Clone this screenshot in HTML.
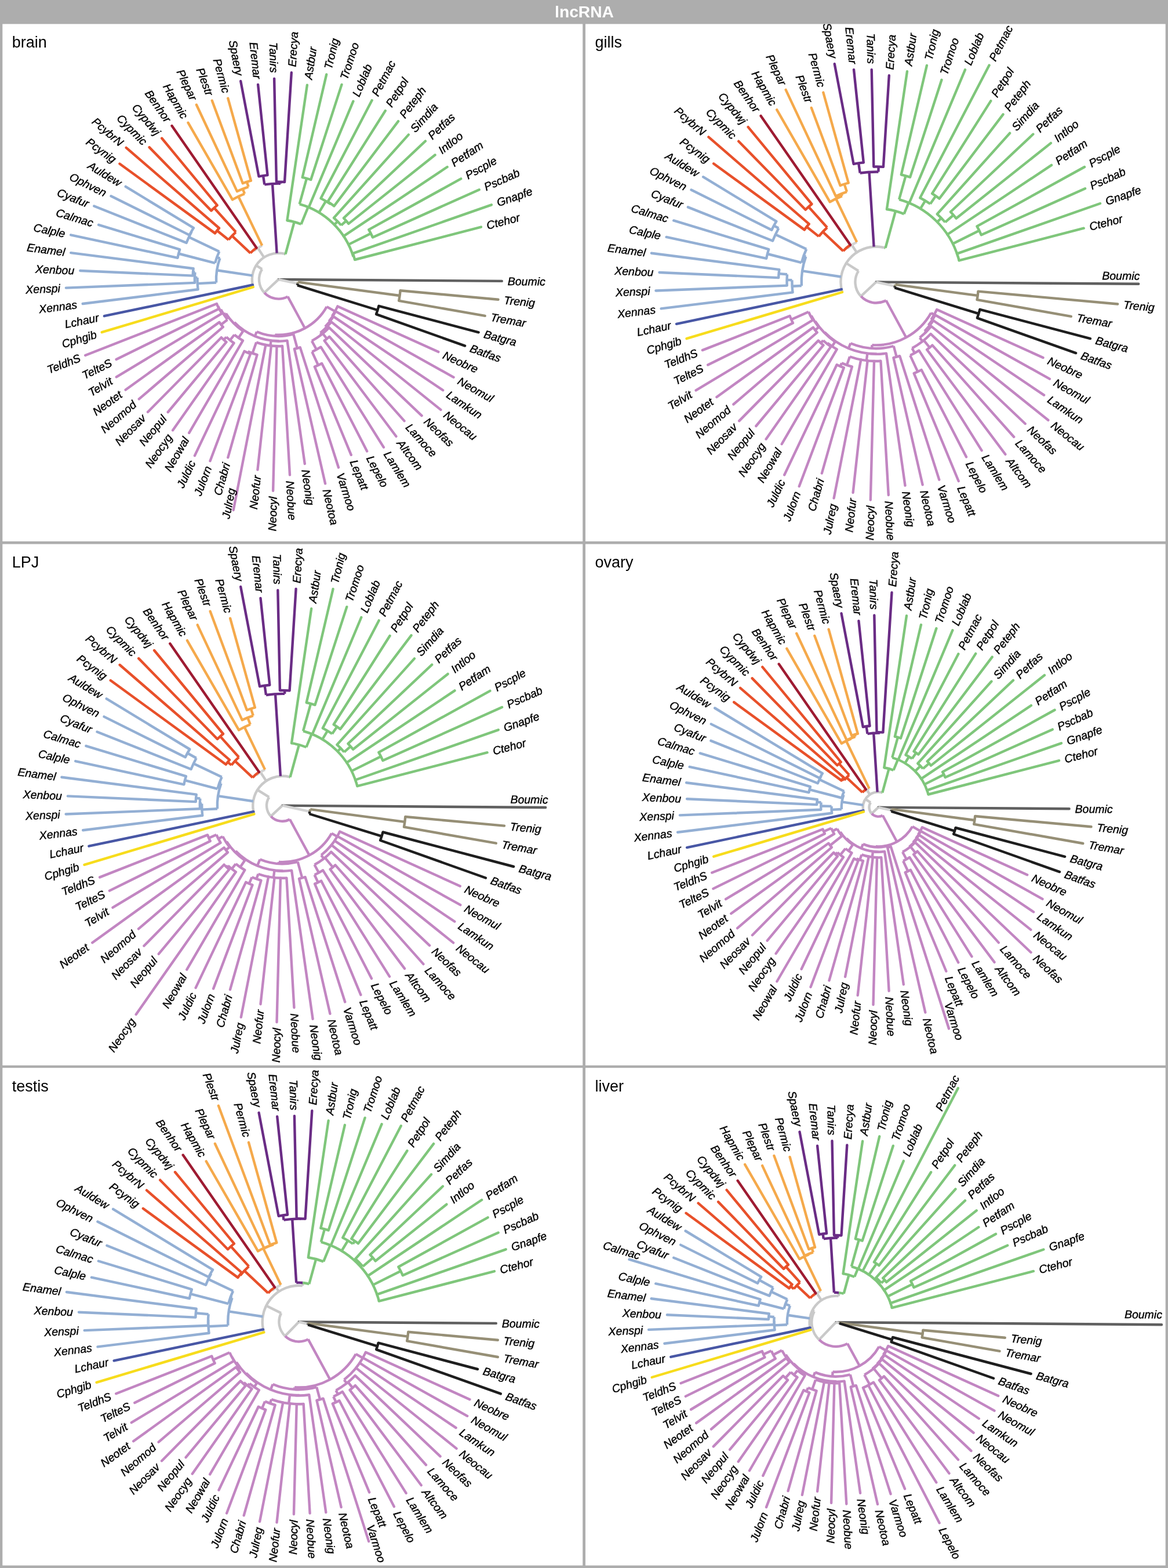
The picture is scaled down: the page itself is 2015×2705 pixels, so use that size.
<!DOCTYPE html>
<html lang="en"><head><meta charset="utf-8"><title>lncRNA</title>
<style>html,body{margin:0;padding:0;background:#adadad}body{position:relative;width:2015px;height:2705px;overflow:hidden;font-family:"Liberation Sans",sans-serif}header{position:absolute;left:0;top:0;width:2015px;height:41px;margin:0;background:#adadad;color:#fff;font-weight:bold;font-size:28.2px;line-height:41.06px;text-align:center;white-space:nowrap}header span{display:inline-block;margin-left:1px}section{position:absolute;margin:0;padding:0;overflow:hidden}section h2{position:absolute;margin:0;padding:0;font-weight:normal;font-size:27px;line-height:30px;color:#000;white-space:nowrap;z-index:1}section svg{position:absolute;left:0;top:0;display:block;font-family:"Liberation Sans",sans-serif}.lab text{font-style:italic;font-size:19.5px;dominant-baseline:central;stroke:#000;stroke-width:0.4px}.br{fill:none;stroke-width:4.4;stroke-linejoin:round}</style></head><body>
<header><span>lncRNA</span></header>
<main>
<section id="panel-brain" style="left:0px;top:41px;width:1008px;height:895px">
<h2 style="left:20.7px;top:16.8px">brain</h2>
<svg width="1008" height="895" viewBox="0 41 1008 895" role="img" aria-label="brain lncRNA tree">
<rect x="4.3" y="41.4" width="1000.9" height="892.5" fill="#fff"/>
<clipPath id="c00"><rect x="4.3" y="41.4" width="1000.9" height="892.5"/></clipPath>
<g clip-path="url(#c00)"><g class="br"><path d="M480.4 482.1L865.8 484.9" stroke="#5f5f5f" stroke-linecap="round"/>
<path d="M480.4 482.1L513.6 489.4" stroke="#d4d4d4" stroke-linecap="butt"/>
<path d="M514.1 486.6A34.0 34.0 0 0 1 513.6 489.4M690.6 501.3A211.0 211.0 0 0 1 688.2 518.8" stroke="#968f76" stroke-linecap="butt"/>
<path d="M513.6 489.4A34.0 34.0 0 0 1 512.9 492.2M653.5 527.8A179.0 179.0 0 0 1 649.1 542.1" stroke="#1e1e1e" stroke-linecap="butt"/>
<path d="M514.1 486.6L689.6 510.0" stroke="#968f76" stroke-linecap="butt"/>
<path d="M690.6 501.3L859.5 516.7M688.2 518.8L836.7 544.9" stroke="#968f76" stroke-linecap="round"/>
<path d="M512.9 492.2L651.4 535.0" stroke="#1e1e1e" stroke-linecap="butt"/>
<path d="M653.5 527.8L825.6 573.3M649.1 542.1L802.1 596.6" stroke="#1e1e1e" stroke-linecap="round"/>
<path d="M480.4 482.1L456.0 505.0M452.1 464.3L442.0 457.9M455.5 444.1L444.8 427.8M485.1 436.9L485.1 436.9" stroke="#c9c9c9" stroke-linecap="butt"/>
<path d="M496.4 511.6A33.5 33.5 0 0 1 456.0 505.0M563.7 529.1A95.6 95.6 0 0 1 474.3 577.6M582.5 528.4A112.0 112.0 0 0 1 572.8 545.4M579.1 537.2A113.0 113.0 0 0 1 567.4 554.3M575.4 546.1A114.5 114.5 0 0 1 560.9 563.6M571.7 555.4A117.0 117.0 0 0 1 552.6 574.3M567.8 565.2A120.5 120.5 0 0 1 537.9 588.1M568.2 580.8A132.0 132.0 0 0 1 559.6 587.7M553.5 598.7A137.5 137.5 0 0 1 538.3 606.9M555.2 627.0A163.0 163.0 0 0 1 542.8 632.7M506.2 576.4A97.7 97.7 0 0 1 442.9 572.3M517.8 599.3A123.0 123.0 0 0 1 507.9 602.0M481.5 588.1A106.0 106.0 0 0 1 404.4 556.0M495.5 587.6A106.5 106.5 0 0 1 467.5 587.9M487.1 597.0A115.0 115.0 0 0 1 442.2 590.6M443.6 612.0A135.0 135.0 0 0 1 427.6 606.4M432.1 610.4A137.0 137.0 0 0 1 421.6 605.9M419.4 571.2A108.0 108.0 0 0 1 389.7 540.7M419.0 587.6A122.0 122.0 0 0 1 404.3 577.5M403.5 591.9A134.0 134.0 0 0 1 390.4 581.4M390.5 590.1A140.5 140.5 0 0 1 381.8 582.2M392.4 551.4A112.0 112.0 0 0 1 381.0 533.7M384.8 564.2A126.0 126.0 0 0 1 378.3 555.9M382.7 540.9A114.0 114.0 0 0 1 376.2 528.2M377.7 532.7A114.5 114.5 0 0 1 373.9 524.0" stroke="#c286c2" stroke-linecap="butt"/>
<path d="M456.0 505.0A33.5 33.5 0 0 1 452.1 464.3M436.8 495.2A45.5 45.5 0 0 1 485.1 436.9M477.6 436.7A45.5 45.5 0 0 1 491.2 437.9" stroke="#c9c9c9" stroke-linecap="butt"/>
<path d="M496.4 511.6L526.0 566.2M563.7 529.1L578.0 537.1M572.8 545.4L573.7 546.0M567.4 554.3L568.6 555.2M560.9 563.6L562.7 565.4M552.6 574.3L554.7 577.0M556.7 575.4L564.0 584.3M537.9 588.1L546.0 603.0M538.3 606.9L549.0 630.0M474.3 577.6L474.2 579.6M506.2 576.4L512.9 600.8M442.9 572.3L439.7 580.0M481.5 588.1L481.5 588.6M467.5 587.9L466.5 596.3M442.2 590.6L435.5 609.4M427.6 606.4L426.8 608.2M404.4 556.0L403.0 557.4M419.4 571.2L411.5 582.8M404.3 577.5L396.8 586.9M390.4 581.4L386.0 586.2M389.7 540.7L386.3 542.8M392.4 551.4L381.4 560.1M381.0 533.7L379.2 534.7M376.2 528.2L375.7 528.4" stroke="#c286c2" stroke-linecap="butt"/>
<path d="M582.5 528.4L756.3 607.1M579.1 537.2L782.6 650.8M575.4 546.1L764.2 673.2M571.7 555.4L760.4 706.9M567.8 565.2L727.6 717.1M568.2 580.8L697.5 726.1M559.6 587.7L683.4 752.8M553.5 598.7L661.9 771.7M555.2 627.0L633.2 778.4M542.8 632.7L605.8 784.8M517.8 599.3L584.0 806.5M507.9 602.0L561.1 834.2M495.5 587.6L525.8 800.1M487.1 597.0L500.0 819.3M477.5 597.1L471.1 846.7M467.9 596.5L444.4 810.4M458.4 595.0L402.7 879.9M443.6 612.0L393.3 789.2M432.1 610.4L362.5 795.3M421.6 605.9L335.9 786.1M419.0 587.6L326.2 746.8M403.5 591.9L298.1 742.3M390.5 590.1L289.7 711.0M381.8 582.2L255.0 710.8M384.8 564.2L239.8 688.4M378.3 555.9L216.6 672.5M382.7 540.9L200.8 650.3M377.7 532.7L200.6 620.0M373.9 524.0L147.2 613.0" stroke="#c286c2" stroke-linecap="round"/>
<path d="M435.9 491.5L179.9 545.2" stroke="#4857a5" stroke-linecap="round"/>
<path d="M435.4 475.4L374.1 466.2M373.1 487.5L340.6 489.1M340.5 478.9L335.9 478.8M336.4 469.7L333.0 469.4M379.4 445.6L374.2 443.7M371.0 453.8L308.1 437.5M378.3 433.9L325.8 409.1M330.7 399.5L330.3 399.3" stroke="#93afd4" stroke-linecap="butt"/>
<path d="M373.1 487.5A107.5 107.5 0 0 1 379.4 445.6M341.5 499.3A140.0 140.0 0 0 1 340.5 478.9M335.9 487.9A144.6 144.6 0 0 1 336.4 469.7M332.6 475.6A148.0 148.0 0 0 1 333.6 463.3M371.0 453.8A113.0 113.0 0 0 1 378.3 433.9M306.4 444.8A178.0 178.0 0 0 1 310.1 430.4M321.6 418.9A171.0 171.0 0 0 1 330.7 399.5M326.9 405.6A171.5 171.5 0 0 1 333.9 393.1" stroke="#93afd4" stroke-linecap="butt"/>
<path d="M341.5 499.3L142.7 524.0M335.9 487.9L113.9 496.6M332.6 475.6L138.3 467.0M333.6 463.3L122.2 436.1M306.4 444.8L122.2 405.3M310.1 430.4L170.1 387.8M321.6 418.9L162.3 355.5M326.9 405.6L191.5 338.2M333.9 393.1L216.7 321.9" stroke="#93afd4" stroke-linecap="round"/>
<path d="M438.0 432.9A65.0 65.0 0 0 1 452.2 423.6" stroke="#d4d4d4" stroke-linecap="butt"/>
<path d="M438.0 432.9L437.0 431.8M432.0 436.6L400.3 406.8M394.3 413.7L374.4 397.8M406.9 400.3L369.5 358.7" stroke="#e8502a" stroke-linecap="butt"/>
<path d="M432.0 436.6A66.5 66.5 0 0 1 442.5 427.5M394.3 413.7A110.0 110.0 0 0 1 406.9 400.3M370.9 402.4A135.5 135.5 0 0 1 378.0 393.5M364.4 363.4A166.0 166.0 0 0 1 374.7 354.1" stroke="#e8502a" stroke-linecap="butt"/>
<path d="M370.9 402.4L206.4 282.5M378.0 393.5L217.7 254.8M364.4 363.4L257.6 254.1M374.7 354.1L279.2 238.5" stroke="#e8502a" stroke-linecap="round"/>
<path d="M442.5 427.5L296.5 217.0" stroke="#9e1b32" stroke-linecap="round"/>
<path d="M452.2 423.6L411.3 339.0M422.0 334.3L418.7 325.9M428.6 322.3L425.8 313.8" stroke="#f5a94b" stroke-linecap="butt"/>
<path d="M401.0 344.4A159.0 159.0 0 0 1 422.0 334.3M409.0 330.1A168.0 168.0 0 0 1 428.6 322.3M418.8 316.2A177.0 177.0 0 0 1 432.9 311.7" stroke="#f5a94b" stroke-linecap="butt"/>
<path d="M401.0 344.4L324.5 211.7M409.0 330.1L338.9 180.8M418.8 316.2L365.8 173.5M432.9 311.7L393.3 169.6" stroke="#f5a94b" stroke-linecap="round"/>
<path d="M491.2 437.9A45.5 45.5 0 0 1 492.5 438.3M495.4 380.2A103.0 103.0 0 0 1 519.5 386.8M516.7 352.1A135.0 135.0 0 0 1 609.6 442.9M521.7 305.9A181.0 181.0 0 0 1 536.3 310.0M553.5 342.1A158.0 158.0 0 0 1 570.5 352.3M565.5 347.8A159.0 159.0 0 0 1 576.4 355.4M576.0 375.8A143.0 143.0 0 0 1 588.6 388.6M593.0 376.2A154.6 154.6 0 0 1 601.4 385.9M636.3 396.1A178.0 178.0 0 0 1 642.9 409.4M608.8 437.2A136.0 136.0 0 0 1 612.1 448.0" stroke="#7fc67b" stroke-linecap="butt"/>
<path d="M477.6 436.7L470.0 317.0M456.3 318.4L454.0 303.1M483.9 316.7L483.9 313.7" stroke="#6a2c85" stroke-linecap="butt"/>
<path d="M456.3 318.4A165.5 165.5 0 0 1 483.9 316.7M446.5 304.3A181.0 181.0 0 0 1 461.5 302.1M476.9 313.7A168.5 168.5 0 0 1 491.0 314.0" stroke="#6a2c85" stroke-linecap="butt"/>
<path d="M446.5 304.3L415.2 139.9M461.5 302.1L445.1 146.0M476.9 313.7L473.1 135.6M491.0 314.0L502.8 125.3" stroke="#6a2c85" stroke-linecap="round"/>
<path d="M492.5 438.3L507.7 382.8M519.5 386.8L531.6 357.2M516.7 352.1L529.0 307.8M550.3 366.6L562.2 346.9M570.5 352.3L571.0 351.5M576.8 387.6L582.5 382.0M588.6 388.6L597.3 381.0M601.2 421.9L639.7 402.7M609.6 442.9L610.5 442.6" stroke="#7fc67b" stroke-linecap="butt"/>
<path d="M495.4 380.2L529.9 146.6M521.7 305.9L563.2 128.5M536.3 310.0L589.5 145.9M532.7 357.7L609.4 174.7M553.5 342.1L641.7 173.1M565.5 347.8L664.8 191.0M576.4 355.4L687.1 209.2M576.0 375.8L704.8 232.4M593.0 376.2L733.9 243.4M601.4 385.9L750.6 267.3M592.8 407.3L771.6 288.0M636.3 396.1L795.2 308.4M642.9 409.4L826.7 327.2M608.8 437.2L847.9 353.3M612.1 448.0L829.9 391.6" stroke="#7fc67b" stroke-linecap="round"/>
<path d="M436.8 495.2L175.7 573.2" stroke="#f7dc1c" stroke-linecap="round"/></g>
<g class="lab" fill="#000"><text transform="translate(875.8 485.0) rotate(0.4)">Boumic</text>
<text transform="translate(869.4 517.6) rotate(5.2)">Trenig</text>
<text transform="translate(846.6 546.7) rotate(10.0)">Tremar</text>
<text transform="translate(835.3 575.8) rotate(14.8)">Batgra</text>
<text transform="translate(811.5 599.9) rotate(19.6)">Batfas</text>
<text transform="translate(765.4 611.3) rotate(24.4)">Neobre</text>
<text transform="translate(791.3 655.6) rotate(29.2)">Neomul</text>
<text transform="translate(772.5 678.8) rotate(34.0)">Lamkun</text>
<text transform="translate(768.2 713.1) rotate(38.8)">Neocau</text>
<text transform="translate(734.9 724.0) rotate(43.5)">Neofas</text>
<text transform="translate(704.1 733.5) rotate(48.3)">Lamoce</text>
<text transform="translate(689.4 760.8) rotate(53.1)">Altcom</text>
<text transform="translate(667.2 780.1) rotate(57.9)">Lamlem</text>
<text transform="translate(637.8 787.2) rotate(62.7)">Lepelo</text>
<text transform="translate(609.6 794.1) rotate(67.5)">Lepatt</text>
<text transform="translate(587.0 816.1) rotate(72.3)">Varmoo</text>
<text transform="translate(563.4 844.0) rotate(77.1)">Neotoa</text>
<text transform="translate(527.2 810.0) rotate(81.9)">Neonig</text>
<text transform="translate(500.6 829.3) rotate(86.7)">Neobue</text>
<text transform="translate(470.8 856.7) rotate(-88.5)" text-anchor="end">Neocyl</text>
<text transform="translate(443.3 820.3) rotate(-83.7)" text-anchor="end">Neofur</text>
<text transform="translate(399.3 842.3) rotate(-79.0)" text-anchor="end">Julreg</text>
<text transform="translate(390.5 798.8) rotate(-74.2)" text-anchor="end">Chabri</text>
<text transform="translate(359.0 804.6) rotate(-69.4)" text-anchor="end">Julorn</text>
<text transform="translate(331.6 795.2) rotate(-64.6)" text-anchor="end">Juldic</text>
<text transform="translate(321.2 755.4) rotate(-59.8)" text-anchor="end">Neowal</text>
<text transform="translate(292.4 750.5) rotate(-55.0)" text-anchor="end">Neocyg</text>
<text transform="translate(283.3 718.7) rotate(-50.2)" text-anchor="end">Neopul</text>
<text transform="translate(247.9 717.9) rotate(-45.4)" text-anchor="end">Neosav</text>
<text transform="translate(232.2 694.9) rotate(-40.6)" text-anchor="end">Neomod</text>
<text transform="translate(208.4 678.4) rotate(-35.8)" text-anchor="end">Neotet</text>
<text transform="translate(192.2 655.5) rotate(-31.0)" text-anchor="end">Telvit</text>
<text transform="translate(191.7 624.4) rotate(-26.2)" text-anchor="end">TelteS</text>
<text transform="translate(137.9 616.6) rotate(-21.4)" text-anchor="end">TeldhS</text>
<text transform="translate(166.1 576.1) rotate(-16.6)" text-anchor="end">Cphgib</text>
<text transform="translate(170.1 547.3) rotate(-11.8)" text-anchor="end">Lchaur</text>
<text transform="translate(132.8 525.2) rotate(-7.1)" text-anchor="end">Xennas</text>
<text transform="translate(103.9 497.0) rotate(-2.3)" text-anchor="end">Xenspi</text>
<text transform="translate(128.3 466.6) rotate(2.5)" text-anchor="end">Xenbou</text>
<text transform="translate(112.3 434.8) rotate(7.3)" text-anchor="end">Enamel</text>
<text transform="translate(112.4 403.2) rotate(12.1)" text-anchor="end">Calple</text>
<text transform="translate(160.6 384.9) rotate(16.9)" text-anchor="end">Calmac</text>
<text transform="translate(153.0 351.9) rotate(21.7)" text-anchor="end">Cyafur</text>
<text transform="translate(182.6 333.7) rotate(26.5)" text-anchor="end">Ophven</text>
<text transform="translate(208.2 316.7) rotate(31.3)" text-anchor="end">Auldew</text>
<text transform="translate(198.4 276.6) rotate(36.1)" text-anchor="end">Pcynig</text>
<text transform="translate(210.2 248.3) rotate(40.9)" text-anchor="end">PcybrN</text>
<text transform="translate(250.6 246.9) rotate(45.7)" text-anchor="end">Cypmic</text>
<text transform="translate(272.9 230.8) rotate(50.5)" text-anchor="end">Cypdwj</text>
<text transform="translate(290.8 208.8) rotate(55.2)" text-anchor="end">Benhor</text>
<text transform="translate(319.5 203.0) rotate(60.0)" text-anchor="end">Hapmic</text>
<text transform="translate(334.6 171.8) rotate(64.8)" text-anchor="end">Plepar</text>
<text transform="translate(362.3 164.2) rotate(69.6)" text-anchor="end">Plestr</text>
<text transform="translate(390.6 159.9) rotate(74.4)" text-anchor="end">Permic</text>
<text transform="translate(413.3 130.1) rotate(79.2)" text-anchor="end">Spaery</text>
<text transform="translate(444.1 136.1) rotate(84.0)" text-anchor="end">Eremar</text>
<text transform="translate(472.9 125.6) rotate(88.8)" text-anchor="end">Tanirs</text>
<text transform="translate(503.4 115.4) rotate(-86.4)">Erecya</text>
<text transform="translate(531.3 136.7) rotate(-81.6)">Astbur</text>
<text transform="translate(565.5 118.8) rotate(-76.8)">Tronig</text>
<text transform="translate(592.6 136.4) rotate(-72.0)">Tromoo</text>
<text transform="translate(613.3 165.5) rotate(-67.2)">Loblab</text>
<text transform="translate(646.3 164.2) rotate(-62.4)">Petmac</text>
<text transform="translate(670.1 182.6) rotate(-57.7)">Petpol</text>
<text transform="translate(693.2 201.2) rotate(-52.9)">Peteph</text>
<text transform="translate(711.4 225.0) rotate(-48.1)">Simdia</text>
<text transform="translate(741.2 236.6) rotate(-43.3)">Petfas</text>
<text transform="translate(758.5 261.1) rotate(-38.5)">Intloo</text>
<text transform="translate(779.9 282.5) rotate(-33.7)">Petfam</text>
<text transform="translate(804.0 303.5) rotate(-28.9)">Pscple</text>
<text transform="translate(835.9 323.1) rotate(-24.1)">Pscbab</text>
<text transform="translate(857.4 350.0) rotate(-19.3)">Gnapfe</text>
<text transform="translate(839.6 389.1) rotate(-14.5)">Ctehor</text></g></g>
</svg></section>
<section id="panel-gills" style="left:1008px;top:41px;width:1007px;height:895px">
<h2 style="left:18.4px;top:16.8px">gills</h2>
<svg width="1007" height="895" viewBox="1008 41 1007 895" role="img" aria-label="gills lncRNA tree">
<rect x="1010.0" y="41.4" width="1000.7" height="892.5" fill="#fff"/>
<clipPath id="c01"><rect x="1010.0" y="41.4" width="1000.7" height="892.5"/></clipPath>
<g clip-path="url(#c01)"><g class="br"><path d="M1511.5 486.5L1964.2 489.8" stroke="#5f5f5f" stroke-linecap="round"/>
<path d="M1511.5 486.5L1544.0 493.7" stroke="#d4d4d4" stroke-linecap="butt"/>
<path d="M1544.5 490.9A33.3 33.3 0 0 1 1544.0 493.7M1687.5 502.6A176.8 176.8 0 0 1 1685.6 517.2" stroke="#968f76" stroke-linecap="butt"/>
<path d="M1544.0 493.7A33.3 33.3 0 0 1 1543.3 496.4M1690.5 533.8A185.2 185.2 0 0 1 1685.9 548.6" stroke="#1e1e1e" stroke-linecap="butt"/>
<path d="M1544.5 490.9L1686.7 509.9" stroke="#968f76" stroke-linecap="butt"/>
<path d="M1687.5 502.6L1928.1 524.5M1685.6 517.2L1847.8 545.8" stroke="#968f76" stroke-linecap="round"/>
<path d="M1543.3 496.4L1688.4 541.2" stroke="#1e1e1e" stroke-linecap="butt"/>
<path d="M1690.5 533.8L1880.9 584.1M1685.9 548.6L1856.1 609.1" stroke="#1e1e1e" stroke-linecap="round"/>
<path d="M1511.5 486.5L1485.2 511.1M1481.0 467.3L1459.9 454.0M1478.0 435.5L1469.5 422.6M1517.7 425.8L1517.7 425.8" stroke="#c9c9c9" stroke-linecap="butt"/>
<path d="M1528.6 518.2A36.0 36.0 0 0 1 1485.2 511.1M1606.2 539.9A108.8 108.8 0 0 1 1504.5 595.1M1616.2 534.0A115.0 115.0 0 0 1 1606.3 551.5M1613.6 543.5A117.0 117.0 0 0 1 1601.5 561.2M1610.2 553.0A119.0 119.0 0 0 1 1595.1 571.2M1606.6 562.9A122.0 122.0 0 0 1 1586.7 582.6M1605.7 576.1A130.0 130.0 0 0 1 1573.5 600.8M1608.5 595.6A146.0 146.0 0 0 1 1599.1 603.3M1585.5 604.7A139.5 139.5 0 0 1 1570.2 613.1M1589.6 638.1A170.5 170.5 0 0 1 1576.7 644.1M1541.7 597.0A114.5 114.5 0 0 1 1467.4 592.2M1552.2 614.2A134.0 134.0 0 0 1 1541.4 617.1M1512.7 610.5A124.0 124.0 0 0 1 1422.6 573.0M1529.0 609.6A124.3 124.3 0 0 1 1496.3 609.9M1519.4 622.8A136.5 136.5 0 0 1 1466.0 615.2M1469.9 632.7A152.0 152.0 0 0 1 1452.0 626.4M1455.8 634.4A158.0 158.0 0 0 1 1443.6 629.2M1440.8 589.6A125.0 125.0 0 0 1 1406.4 554.3M1443.7 602.7A134.5 134.5 0 0 1 1427.5 591.6M1433.4 597.9A136.0 136.0 0 0 1 1420.1 587.3M1420.5 595.6A142.0 142.0 0 0 1 1411.7 587.6M1412.4 564.5A126.0 126.0 0 0 1 1399.6 544.6M1409.7 573.7A134.0 134.0 0 0 1 1402.8 564.9M1402.3 552.2A127.4 127.4 0 0 1 1394.9 538.0M1367.9 557.2A160.0 160.0 0 0 1 1362.5 545.0" stroke="#c286c2" stroke-linecap="butt"/>
<path d="M1485.2 511.1A36.0 36.0 0 0 1 1481.0 467.3M1453.0 504.0A61.0 61.0 0 0 1 1517.7 425.8M1507.6 425.6A61.0 61.0 0 0 1 1525.8 427.2" stroke="#c9c9c9" stroke-linecap="butt"/>
<path d="M1528.6 518.2L1563.3 582.2M1606.2 539.9L1611.7 543.0M1606.3 551.5L1608.0 552.6M1601.5 561.2L1603.1 562.5M1595.1 571.2L1597.2 573.3M1586.7 582.6L1591.6 588.9M1593.7 587.2L1603.9 599.6M1573.5 600.8L1578.0 609.1M1570.2 613.1L1583.2 641.2M1504.5 595.1L1504.1 600.8M1541.7 597.0L1546.8 615.8M1467.4 592.2L1463.8 601.0M1512.7 610.5L1512.7 610.8M1496.3 609.9L1494.9 622.0M1466.0 615.2L1460.9 629.9M1452.0 626.4L1449.6 631.9M1422.6 573.0L1421.8 573.7M1440.8 589.6L1435.4 597.5M1427.5 591.6L1426.6 592.8M1420.1 587.3L1416.1 591.7M1406.4 554.3L1405.6 554.8M1412.4 564.5L1406.2 569.4M1399.6 544.6L1398.4 545.2M1394.9 538.0L1365.1 551.2" stroke="#c286c2" stroke-linecap="butt"/>
<path d="M1616.2 534.0L1799.5 617.0M1613.6 543.5L1810.8 653.6M1610.2 553.0L1801.1 681.6M1606.6 562.9L1808.3 724.8M1605.7 576.1L1768.7 731.0M1608.5 595.6L1749.2 753.7M1599.1 603.3L1734.4 783.7M1585.5 604.7L1693.6 777.1M1589.6 638.1L1667.0 788.2M1576.7 644.1L1653.7 830.0M1552.2 614.2L1620.3 827.6M1541.4 617.1L1591.6 836.2M1529.0 609.6L1561.5 837.6M1519.4 622.8L1532.8 854.0M1508.0 623.0L1501.8 862.5M1496.6 622.2L1471.6 849.8M1485.3 620.5L1438.6 859.4M1469.9 632.7L1417.8 816.5M1455.8 634.4L1378.7 839.0M1443.6 629.2L1353.2 819.2M1443.7 602.7L1348.7 766.0M1433.4 597.9L1321.6 757.5M1420.5 595.6L1304.3 735.0M1411.7 587.6L1275.2 726.1M1409.7 573.7L1265.4 697.5M1402.8 564.9L1236.4 685.0M1402.3 552.2L1200.6 673.4M1367.9 557.2L1221.2 629.5M1362.5 545.0L1211.9 604.1" stroke="#c286c2" stroke-linecap="round"/>
<path d="M1451.8 499.1L1167.0 558.8" stroke="#4857a5" stroke-linecap="round"/>
<path d="M1451.1 477.5L1384.1 467.4M1382.8 493.0L1366.5 493.8M1366.4 483.2L1357.5 482.9M1358.0 473.3L1343.6 472.1M1390.3 442.7L1386.4 441.3M1382.7 453.2L1323.9 438.0M1391.2 429.7L1337.8 404.4M1343.3 393.7L1335.1 389.2" stroke="#93afd4" stroke-linecap="butt"/>
<path d="M1382.8 493.0A128.8 128.8 0 0 1 1390.3 442.7M1367.5 504.4A145.1 145.1 0 0 1 1366.4 483.2M1357.6 492.6A154.0 154.0 0 0 1 1358.0 473.3M1343.1 479.1A168.5 168.5 0 0 1 1344.3 465.1M1382.7 453.2A133.0 133.0 0 0 1 1391.2 429.7M1322.1 445.9A193.7 193.7 0 0 1 1326.1 430.2M1333.0 415.5A192.1 192.1 0 0 1 1343.3 393.7M1331.2 396.7A201.4 201.4 0 0 1 1339.3 381.9" stroke="#93afd4" stroke-linecap="butt"/>
<path d="M1367.5 504.4L1140.6 532.4M1357.6 492.6L1131.4 501.5M1343.1 479.1L1137.5 470.0M1344.3 465.1L1123.9 436.7M1322.1 445.9L1149.6 408.9M1326.1 430.2L1162.2 380.4M1333.0 415.5L1186.9 357.4M1331.2 396.7L1192.5 327.5M1339.3 381.9L1213.1 305.2" stroke="#93afd4" stroke-linecap="round"/>
<path d="M1461.5 428.6A76.5 76.5 0 0 1 1478.2 417.6" stroke="#d4d4d4" stroke-linecap="butt"/>
<path d="M1461.5 428.6L1460.5 427.4M1454.7 433.1L1419.4 399.9M1412.5 407.9L1391.6 391.3M1427.0 392.5L1394.9 356.8" stroke="#e8502a" stroke-linecap="butt"/>
<path d="M1454.7 433.1A78.0 78.0 0 0 1 1467.0 422.4M1412.5 407.9A126.4 126.4 0 0 1 1427.0 392.5M1387.7 396.4A153.1 153.1 0 0 1 1395.7 386.3M1389.6 361.8A174.4 174.4 0 0 1 1400.4 352.0" stroke="#e8502a" stroke-linecap="butt"/>
<path d="M1387.7 396.4L1231.1 282.2M1395.7 386.3L1222.4 236.4M1389.6 361.8L1274.2 243.7M1400.4 352.0L1290.6 219.1" stroke="#e8502a" stroke-linecap="round"/>
<path d="M1467.0 422.4L1312.6 199.9" stroke="#9e1b32" stroke-linecap="round"/>
<path d="M1478.2 417.6L1442.1 342.8M1452.8 338.1L1451.3 334.4M1461.0 330.9L1456.6 317.6" stroke="#f5a94b" stroke-linecap="butt"/>
<path d="M1431.7 348.3A159.6 159.6 0 0 1 1452.8 338.1M1441.9 338.5A163.6 163.6 0 0 1 1461.0 330.9M1449.6 320.0A177.6 177.6 0 0 1 1463.7 315.5" stroke="#f5a94b" stroke-linecap="butt"/>
<path d="M1431.7 348.3L1340.2 189.4M1441.9 338.5L1355.6 154.9M1449.6 320.0L1399.8 185.9M1463.7 315.5L1420.3 159.5" stroke="#f5a94b" stroke-linecap="round"/>
<path d="M1525.8 427.2A61.0 61.0 0 0 1 1527.6 427.7M1529.9 361.0A126.9 126.9 0 0 1 1559.6 369.1M1551.1 344.1A147.9 147.9 0 0 1 1652.9 443.5M1554.8 301.3A190.2 190.2 0 0 1 1570.1 305.6M1587.3 341.2A163.9 163.9 0 0 1 1604.9 351.8M1608.1 333.9A180.6 180.6 0 0 1 1620.5 342.6M1616.8 369.3A157.6 157.6 0 0 1 1630.6 383.4M1639.9 365.5A176.5 176.5 0 0 1 1649.6 376.7M1685.5 390.4A198.8 198.8 0 0 1 1692.9 405.3M1651.0 437.6A147.9 147.9 0 0 1 1654.6 449.4" stroke="#7fc67b" stroke-linecap="butt"/>
<path d="M1507.6 425.6L1499.5 296.8M1483.7 298.5L1481.2 281.4M1515.4 296.5L1515.6 287.6" stroke="#6a2c85" stroke-linecap="butt"/>
<path d="M1483.7 298.5A190.1 190.1 0 0 1 1515.4 296.5M1472.6 282.9A207.3 207.3 0 0 1 1489.8 280.4M1507.3 287.6A199.0 199.0 0 0 1 1523.9 287.9" stroke="#6a2c85" stroke-linecap="butt"/>
<path d="M1472.6 282.9L1439.7 110.2M1489.8 280.4L1473.0 120.1M1507.3 287.6L1503.7 120.1M1523.9 287.9L1533.8 130.3" stroke="#6a2c85" stroke-linecap="round"/>
<path d="M1527.6 427.7L1545.0 364.1M1559.6 369.1L1567.5 349.7M1551.1 344.1L1562.5 303.3M1587.9 359.9L1596.2 346.3M1604.9 351.8L1614.4 338.1M1617.0 382.9L1623.9 376.1M1630.6 383.4L1644.9 371.0M1643.8 420.5L1689.4 397.8M1652.9 443.5L1652.9 443.5" stroke="#7fc67b" stroke-linecap="butt"/>
<path d="M1529.9 361.0L1565.0 123.1M1554.8 301.3L1598.9 113.0M1570.1 305.6L1624.5 137.8M1568.7 350.1L1665.0 120.4M1587.3 341.2L1706.6 112.6M1608.1 333.9L1709.3 174.1M1620.5 342.6L1730.5 197.3M1616.8 369.3L1742.1 229.7M1639.9 365.5L1782.3 231.5M1649.6 376.7L1812.9 246.9M1634.5 404.5L1814.0 284.8M1685.5 390.4L1871.0 288.0M1692.9 405.3L1872.0 325.2M1651.0 437.6L1898.0 351.0M1654.6 449.4L1869.7 393.7" stroke="#7fc67b" stroke-linecap="round"/>
<path d="M1453.0 504.0L1184.5 584.2" stroke="#f7dc1c" stroke-linecap="round"/></g>
<g class="lab" fill="#000"><text transform="translate(1966.3 475.8) rotate(0.4)" text-anchor="end">Boumic</text>
<text transform="translate(1938.1 525.4) rotate(5.2)">Trenig</text>
<text transform="translate(1857.6 547.5) rotate(10.0)">Tremar</text>
<text transform="translate(1890.6 586.6) rotate(14.8)">Batgra</text>
<text transform="translate(1865.5 612.5) rotate(19.6)">Batfas</text>
<text transform="translate(1808.6 621.1) rotate(24.4)">Neobre</text>
<text transform="translate(1819.5 658.5) rotate(29.2)">Neomul</text>
<text transform="translate(1809.4 687.2) rotate(34.0)">Lamkun</text>
<text transform="translate(1816.1 731.0) rotate(38.8)">Neocau</text>
<text transform="translate(1775.9 737.9) rotate(43.5)">Neofas</text>
<text transform="translate(1755.8 761.1) rotate(48.3)">Lamoce</text>
<text transform="translate(1740.4 791.7) rotate(53.1)">Altcom</text>
<text transform="translate(1698.9 785.5) rotate(57.9)">Lamlem</text>
<text transform="translate(1671.6 797.0) rotate(62.7)">Lepelo</text>
<text transform="translate(1657.5 839.3) rotate(67.5)">Lepatt</text>
<text transform="translate(1623.3 837.1) rotate(72.3)">Varmoo</text>
<text transform="translate(1593.8 845.9) rotate(77.1)">Neotoa</text>
<text transform="translate(1562.9 847.5) rotate(81.9)">Neonig</text>
<text transform="translate(1533.4 864.0) rotate(86.7)">Neobue</text>
<text transform="translate(1501.6 872.5) rotate(-88.5)" text-anchor="end">Neocyl</text>
<text transform="translate(1470.5 859.8) rotate(-83.7)" text-anchor="end">Neofur</text>
<text transform="translate(1436.7 869.2) rotate(-78.9)" text-anchor="end">Julreg</text>
<text transform="translate(1415.1 826.1) rotate(-74.2)" text-anchor="end">Chabri</text>
<text transform="translate(1375.1 848.4) rotate(-69.4)" text-anchor="end">Julorn</text>
<text transform="translate(1348.9 828.3) rotate(-64.6)" text-anchor="end">Juldic</text>
<text transform="translate(1343.6 774.6) rotate(-59.8)" text-anchor="end">Neowal</text>
<text transform="translate(1315.8 765.7) rotate(-55.0)" text-anchor="end">Neocyg</text>
<text transform="translate(1297.9 742.7) rotate(-50.2)" text-anchor="end">Neopul</text>
<text transform="translate(1268.1 733.2) rotate(-45.4)" text-anchor="end">Neosav</text>
<text transform="translate(1257.8 704.0) rotate(-40.6)" text-anchor="end">Neomod</text>
<text transform="translate(1228.3 690.9) rotate(-35.8)" text-anchor="end">Neotet</text>
<text transform="translate(1192.0 678.6) rotate(-31.0)" text-anchor="end">Telvit</text>
<text transform="translate(1212.2 634.0) rotate(-26.2)" text-anchor="end">TelteS</text>
<text transform="translate(1202.6 607.8) rotate(-21.4)" text-anchor="end">TeldhS</text>
<text transform="translate(1175.0 587.1) rotate(-16.6)" text-anchor="end">Cphgib</text>
<text transform="translate(1157.2 560.9) rotate(-11.8)" text-anchor="end">Lchaur</text>
<text transform="translate(1130.7 533.7) rotate(-7.1)" text-anchor="end">Xennas</text>
<text transform="translate(1121.5 501.9) rotate(-2.3)" text-anchor="end">Xenspi</text>
<text transform="translate(1127.5 469.6) rotate(2.5)" text-anchor="end">Xenbou</text>
<text transform="translate(1114.0 435.5) rotate(7.3)" text-anchor="end">Enamel</text>
<text transform="translate(1139.8 406.8) rotate(12.1)" text-anchor="end">Calple</text>
<text transform="translate(1152.7 377.5) rotate(16.9)" text-anchor="end">Calmac</text>
<text transform="translate(1177.6 353.7) rotate(21.7)" text-anchor="end">Cyafur</text>
<text transform="translate(1183.5 323.1) rotate(26.5)" text-anchor="end">Ophven</text>
<text transform="translate(1204.6 300.0) rotate(31.3)" text-anchor="end">Auldew</text>
<text transform="translate(1223.0 276.4) rotate(36.1)" text-anchor="end">Pcynig</text>
<text transform="translate(1214.9 229.9) rotate(40.9)" text-anchor="end">PcybrN</text>
<text transform="translate(1267.2 236.6) rotate(45.7)" text-anchor="end">Cypmic</text>
<text transform="translate(1284.3 211.4) rotate(50.5)" text-anchor="end">Cypdwj</text>
<text transform="translate(1306.9 191.6) rotate(55.2)" text-anchor="end">Benhor</text>
<text transform="translate(1335.2 180.7) rotate(60.0)" text-anchor="end">Hapmic</text>
<text transform="translate(1351.4 145.9) rotate(64.8)" text-anchor="end">Plepar</text>
<text transform="translate(1396.3 176.5) rotate(69.6)" text-anchor="end">Plestr</text>
<text transform="translate(1417.6 149.9) rotate(74.4)" text-anchor="end">Permic</text>
<text transform="translate(1437.9 100.4) rotate(79.2)" text-anchor="end">Spaery</text>
<text transform="translate(1471.9 110.2) rotate(84.0)" text-anchor="end">Eremar</text>
<text transform="translate(1503.5 110.1) rotate(88.8)" text-anchor="end">Tanirs</text>
<text transform="translate(1534.4 120.3) rotate(-86.4)">Erecya</text>
<text transform="translate(1566.4 113.3) rotate(-81.6)">Astbur</text>
<text transform="translate(1601.2 103.3) rotate(-76.8)">Tronig</text>
<text transform="translate(1627.6 128.3) rotate(-72.0)">Tromoo</text>
<text transform="translate(1668.9 111.2) rotate(-67.2)">Loblab</text>
<text transform="translate(1711.2 103.7) rotate(-62.4)">Petmac</text>
<text transform="translate(1714.6 165.6) rotate(-57.7)">Petpol</text>
<text transform="translate(1736.5 189.3) rotate(-52.9)">Peteph</text>
<text transform="translate(1748.8 222.3) rotate(-48.1)">Simdia</text>
<text transform="translate(1789.6 224.6) rotate(-43.3)">Petfas</text>
<text transform="translate(1820.7 240.6) rotate(-38.5)">Intloo</text>
<text transform="translate(1822.3 279.3) rotate(-33.7)">Petfam</text>
<text transform="translate(1879.8 283.2) rotate(-28.9)">Pscple</text>
<text transform="translate(1881.1 321.1) rotate(-24.1)">Pscbab</text>
<text transform="translate(1907.4 347.7) rotate(-19.3)">Gnapfe</text>
<text transform="translate(1879.4 391.2) rotate(-14.5)">Ctehor</text></g></g>
</svg></section>
<section id="panel-LPJ" style="left:0px;top:936px;width:1008px;height:904px">
<h2 style="left:20.7px;top:19.0px">LPJ</h2>
<svg width="1008" height="904" viewBox="0 936 1008 904" role="img" aria-label="LPJ lncRNA tree">
<rect x="4.3" y="938.6" width="1000.9" height="899.3" fill="#fff"/>
<clipPath id="c10"><rect x="4.3" y="938.6" width="1000.9" height="899.3"/></clipPath>
<g clip-path="url(#c10)"><g class="br"><path d="M487.1 1389.7L941.2 1393.0" stroke="#5f5f5f" stroke-linecap="round"/>
<path d="M487.1 1389.7L534.5 1400.1" stroke="#d4d4d4" stroke-linecap="butt"/>
<path d="M535.2 1396.1A48.5 48.5 0 0 1 534.5 1400.1M699.3 1409.0A213.1 213.1 0 0 1 697.0 1426.7" stroke="#968f76" stroke-linecap="butt"/>
<path d="M534.5 1400.1A48.5 48.5 0 0 1 533.5 1404.0M660.6 1435.5A179.4 179.4 0 0 1 656.1 1449.8" stroke="#1e1e1e" stroke-linecap="butt"/>
<path d="M535.2 1396.1L698.3 1417.9" stroke="#968f76" stroke-linecap="butt"/>
<path d="M699.3 1409.0L870.0 1424.6M697.0 1426.7L855.8 1454.7" stroke="#968f76" stroke-linecap="round"/>
<path d="M533.5 1404.0L658.5 1442.7" stroke="#1e1e1e" stroke-linecap="butt"/>
<path d="M660.6 1435.5L886.1 1495.0M656.1 1449.8L837.9 1514.5" stroke="#1e1e1e" stroke-linecap="round"/>
<path d="M487.1 1389.7L467.3 1408.2M464.2 1375.2L444.1 1362.6M459.2 1347.1L449.3 1332.0M492.3 1339.1L492.3 1339.1" stroke="#c9c9c9" stroke-linecap="butt"/>
<path d="M500.0 1413.5A27.1 27.1 0 0 1 467.3 1408.2M572.1 1437.6A97.5 97.5 0 0 1 480.9 1487.0M586.1 1434.6A108.7 108.7 0 0 1 576.8 1451.1M582.0 1442.7A108.7 108.7 0 0 1 570.8 1459.1M577.3 1450.4A108.7 108.7 0 0 1 563.5 1467.0M571.9 1457.7A108.7 108.7 0 0 1 554.1 1475.3M571.3 1469.7A116.1 116.1 0 0 1 542.5 1491.8M578.5 1492.4A137.5 137.5 0 0 1 569.6 1499.7M557.1 1501.4A131.8 131.8 0 0 1 542.6 1509.3M554.1 1519.6A146.2 146.2 0 0 1 543.1 1524.8M513.6 1486.6A100.5 100.5 0 0 1 448.5 1482.5M526.5 1513.0A129.4 129.4 0 0 1 516.0 1515.8M488.2 1502.2A112.5 112.5 0 0 1 406.5 1468.1M503.1 1501.6A113.0 113.0 0 0 1 473.4 1501.9M494.4 1514.6A125.1 125.1 0 0 1 445.5 1507.7M450.4 1518.9A134.3 134.3 0 0 1 434.6 1513.3M435.5 1526.7A146.4 146.4 0 0 1 424.2 1521.9M422.4 1484.2A114.5 114.5 0 0 1 390.9 1451.8M422.3 1501.0A128.8 128.8 0 0 1 406.7 1490.3M406.9 1504.2A139.8 139.8 0 0 1 393.2 1493.3M395.4 1499.8A143.3 143.3 0 0 1 386.5 1491.7M396.0 1461.5A116.0 116.0 0 0 1 384.2 1443.1M392.9 1470.5A124.1 124.1 0 0 1 386.5 1462.3M380.5 1453.8A124.4 124.4 0 0 1 373.3 1440.0M362.7 1451.0A138.7 138.7 0 0 1 358.0 1440.4" stroke="#c286c2" stroke-linecap="butt"/>
<path d="M467.3 1408.2A27.1 27.1 0 0 1 464.2 1375.2M438.4 1404.3A50.9 50.9 0 0 1 492.3 1339.1M483.9 1338.9A50.9 50.9 0 0 1 499.1 1340.2" stroke="#c9c9c9" stroke-linecap="butt"/>
<path d="M500.0 1413.5L533.6 1475.4M572.1 1437.6L581.8 1443.1M576.8 1451.1L576.8 1451.1M570.8 1459.1L570.8 1459.1M563.5 1467.0L563.5 1467.0M554.1 1475.3L558.7 1481.1M560.6 1479.6L574.2 1496.2M542.5 1491.8L550.0 1505.6M542.6 1509.3L548.7 1522.3M480.9 1487.0L480.7 1490.0M513.6 1486.6L521.3 1514.5M448.5 1482.5L443.9 1493.6M488.2 1502.2L488.2 1502.7M473.4 1501.9L471.9 1513.9M445.5 1507.7L442.4 1516.3M434.6 1513.3L429.8 1524.4M406.5 1468.1L405.0 1469.5M422.4 1484.2L414.3 1496.0M406.7 1490.3L399.9 1498.9M393.2 1493.3L390.9 1495.9M390.9 1451.8L389.6 1452.6M396.0 1461.5L389.6 1466.5M384.2 1443.1L376.7 1447.0M373.3 1440.0L360.2 1445.7" stroke="#c286c2" stroke-linecap="butt"/>
<path d="M586.1 1434.6L793.8 1528.7M582.0 1442.7L794.3 1561.2M577.3 1450.4L784.3 1589.8M571.9 1457.7L782.1 1626.4M571.3 1469.7L741.1 1631.1M578.5 1492.4L730.4 1663.1M569.6 1499.7L698.0 1670.9M557.1 1501.4L672.0 1684.7M554.1 1519.6L641.0 1688.1M543.1 1524.8L622.4 1716.3M526.5 1513.0L595.2 1728.5M516.0 1515.8L569.4 1748.8M503.1 1501.6L539.6 1757.9M494.4 1514.6L507.4 1738.2M483.9 1514.8L477.5 1763.4M473.5 1514.1L449.5 1732.2M463.1 1512.5L415.8 1754.8M450.4 1518.9L397.0 1707.1M435.5 1526.7L368.1 1705.6M424.2 1521.9L337.6 1704.1M422.3 1501.0L322.3 1672.7M406.9 1504.2L234.7 1750.0M395.4 1499.8L273.8 1645.7M386.5 1491.7L248.4 1631.8M392.9 1470.5L239.0 1602.4M386.5 1462.3L159.3 1626.3M380.5 1453.8L194.5 1565.6M362.7 1451.0L188.9 1536.6M358.0 1440.4L172.1 1513.4" stroke="#c286c2" stroke-linecap="round"/>
<path d="M437.3 1400.2L153.4 1459.7" stroke="#4857a5" stroke-linecap="round"/>
<path d="M436.8 1382.2L376.1 1373.1M375.0 1395.3L348.3 1396.6M348.2 1386.5L344.9 1386.4M345.3 1377.5L338.1 1376.9M381.5 1351.5L378.5 1350.4M375.3 1360.8L319.0 1346.2M382.7 1340.4L333.9 1317.3M338.7 1307.8L323.3 1299.3" stroke="#93afd4" stroke-linecap="butt"/>
<path d="M375.0 1395.3A112.3 112.3 0 0 1 381.5 1351.5M349.2 1406.8A139.0 139.0 0 0 1 348.2 1386.5M344.9 1395.3A142.3 142.3 0 0 1 345.3 1377.5M337.7 1383.1A149.6 149.6 0 0 1 338.7 1370.6M375.3 1360.8A115.5 115.5 0 0 1 382.7 1340.4M317.3 1353.3A173.7 173.7 0 0 1 320.9 1339.2M329.6 1327.0A169.5 169.5 0 0 1 338.7 1307.8M319.7 1306.2A187.1 187.1 0 0 1 327.2 1292.5" stroke="#93afd4" stroke-linecap="butt"/>
<path d="M349.2 1406.8L143.2 1432.3M344.9 1395.3L113.6 1404.5M337.7 1383.1L116.9 1373.4M338.7 1370.6L106.4 1340.8M317.3 1353.3L130.2 1313.1M320.9 1339.2L148.4 1286.8M329.6 1327.0L167.5 1262.5M319.7 1306.2L179.5 1236.4M327.2 1292.5L183.7 1205.4" stroke="#93afd4" stroke-linecap="round"/>
<path d="M442.1 1337.4A69.0 69.0 0 0 1 457.1 1327.6" stroke="#d4d4d4" stroke-linecap="butt"/>
<path d="M442.1 1337.4L441.1 1336.3M435.8 1341.4L405.4 1312.8M399.3 1319.9L392.8 1314.7M412.1 1306.2L379.9 1270.4" stroke="#e8502a" stroke-linecap="butt"/>
<path d="M435.8 1341.4A70.5 70.5 0 0 1 446.9 1331.8M399.3 1319.9A112.2 112.2 0 0 1 412.1 1306.2M389.7 1318.7A120.5 120.5 0 0 1 396.0 1310.9M375.0 1275.0A160.4 160.4 0 0 1 385.0 1266.0" stroke="#e8502a" stroke-linecap="butt"/>
<path d="M389.7 1318.7L190.7 1173.8M396.0 1310.9L206.6 1147.0M375.0 1275.0L239.2 1135.9M385.0 1266.0L266.1 1122.0" stroke="#e8502a" stroke-linecap="round"/>
<path d="M446.9 1331.8L293.3 1110.3" stroke="#9e1b32" stroke-linecap="round"/>
<path d="M457.1 1327.6L421.7 1254.3M431.8 1249.8L427.2 1238.0M436.8 1234.6L432.9 1222.6" stroke="#f5a94b" stroke-linecap="butt"/>
<path d="M412.0 1259.4A150.4 150.4 0 0 1 431.8 1249.8M417.8 1242.1A163.1 163.1 0 0 1 436.8 1234.6M425.9 1225.0A175.7 175.7 0 0 1 439.9 1220.5" stroke="#f5a94b" stroke-linecap="butt"/>
<path d="M412.0 1259.4L322.9 1104.8M417.8 1242.1L340.7 1078.1M425.9 1225.0L362.6 1054.5M439.9 1220.5L397.1 1066.7" stroke="#f5a94b" stroke-linecap="round"/>
<path d="M499.1 1340.2A50.9 50.9 0 0 1 500.6 1340.6M503.0 1282.1A108.8 108.8 0 0 1 528.4 1289.0M523.0 1261.1A133.5 133.5 0 0 1 614.8 1350.9M528.7 1212.0A182.5 182.5 0 0 1 543.4 1216.1M556.8 1256.1A150.7 150.7 0 0 1 573.0 1265.9M575.7 1249.8A165.6 165.6 0 0 1 587.1 1257.7M581.4 1284.7A141.1 141.1 0 0 1 593.8 1297.4M600.5 1282.9A155.8 155.8 0 0 1 609.1 1292.7M653.4 1297.9A189.9 189.9 0 0 1 660.5 1312.1M613.1 1345.5A133.5 133.5 0 0 1 616.4 1356.2" stroke="#7fc67b" stroke-linecap="butt"/>
<path d="M483.9 1338.9L475.0 1197.3M459.0 1199.0L456.6 1182.7M491.1 1196.9L491.3 1191.0" stroke="#6a2c85" stroke-linecap="butt"/>
<path d="M459.0 1199.0A192.8 192.8 0 0 1 491.1 1196.9M448.0 1184.2A209.2 209.2 0 0 1 465.3 1181.7M482.9 1191.0A198.7 198.7 0 0 1 499.6 1191.4" stroke="#6a2c85" stroke-linecap="butt"/>
<path d="M448.0 1184.2L415.2 1012.2M465.3 1181.7L449.5 1031.9M482.9 1191.0L479.3 1018.2M499.6 1191.4L510.6 1016.0" stroke="#6a2c85" stroke-linecap="round"/>
<path d="M500.6 1340.6L515.9 1284.8M528.4 1289.0L537.7 1266.2M523.0 1261.1L536.1 1213.9M556.2 1275.4L565.1 1260.7M573.0 1265.9L581.5 1253.6M582.4 1296.2L587.8 1290.8M593.8 1297.4L604.9 1287.7M606.6 1330.1L657.1 1305.0M614.8 1350.9L614.8 1350.9" stroke="#7fc67b" stroke-linecap="butt"/>
<path d="M503.0 1282.1L537.2 1050.0M528.7 1212.0L574.6 1016.1M543.4 1216.1L598.3 1046.9M538.8 1266.6L623.3 1065.0M556.8 1256.1L653.7 1070.4M575.7 1249.8L672.6 1096.8M587.1 1257.7L709.5 1096.1M581.4 1284.7L714.9 1136.1M600.5 1282.9L745.2 1146.7M609.1 1292.7L772.6 1162.7M598.2 1315.6L784.5 1191.4M653.4 1297.9L845.4 1191.9M660.5 1312.1L866.1 1220.1M613.1 1345.5L859.8 1259.1M616.4 1356.2L840.6 1298.2" stroke="#7fc67b" stroke-linecap="round"/>
<path d="M438.4 1404.3L145.5 1491.8" stroke="#f7dc1c" stroke-linecap="round"/></g>
<g class="lab" fill="#000"><text transform="translate(945.5 1379.3) rotate(0.4)" text-anchor="end">Boumic</text>
<text transform="translate(880.0 1425.5) rotate(5.2)">Trenig</text>
<text transform="translate(865.7 1456.4) rotate(10.0)">Tremar</text>
<text transform="translate(895.7 1497.6) rotate(14.8)">Batgra</text>
<text transform="translate(847.3 1517.8) rotate(19.6)">Batfas</text>
<text transform="translate(802.9 1532.8) rotate(24.4)">Neobre</text>
<text transform="translate(803.0 1566.0) rotate(29.2)">Neomul</text>
<text transform="translate(792.6 1595.4) rotate(34.0)">Lamkun</text>
<text transform="translate(789.9 1632.7) rotate(38.8)">Neocau</text>
<text transform="translate(748.4 1638.0) rotate(43.5)">Neofas</text>
<text transform="translate(737.0 1670.5) rotate(48.3)">Lamoce</text>
<text transform="translate(704.0 1678.9) rotate(53.1)">Altcom</text>
<text transform="translate(677.3 1693.1) rotate(57.9)">Lamlem</text>
<text transform="translate(645.6 1696.9) rotate(62.7)">Lepelo</text>
<text transform="translate(626.2 1725.6) rotate(67.5)">Lepatt</text>
<text transform="translate(598.3 1738.0) rotate(72.3)">Varmoo</text>
<text transform="translate(571.7 1758.5) rotate(77.1)">Neotoa</text>
<text transform="translate(541.0 1767.8) rotate(81.9)">Neonig</text>
<text transform="translate(507.9 1748.2) rotate(86.7)">Neobue</text>
<text transform="translate(477.3 1773.4) rotate(-88.5)" text-anchor="end">Neocyl</text>
<text transform="translate(448.5 1742.1) rotate(-83.7)" text-anchor="end">Neofur</text>
<text transform="translate(413.9 1764.6) rotate(-78.9)" text-anchor="end">Julreg</text>
<text transform="translate(394.3 1716.7) rotate(-74.2)" text-anchor="end">Chabri</text>
<text transform="translate(364.6 1715.0) rotate(-69.4)" text-anchor="end">Julorn</text>
<text transform="translate(333.3 1713.1) rotate(-64.6)" text-anchor="end">Juldic</text>
<text transform="translate(317.2 1681.3) rotate(-59.8)" text-anchor="end">Neowal</text>
<text transform="translate(229.0 1758.2) rotate(-55.0)" text-anchor="end">Neocyg</text>
<text transform="translate(267.4 1653.3) rotate(-50.2)" text-anchor="end">Neopul</text>
<text transform="translate(241.4 1638.9) rotate(-45.4)" text-anchor="end">Neosav</text>
<text transform="translate(231.4 1608.9) rotate(-40.6)" text-anchor="end">Neomod</text>
<text transform="translate(151.1 1632.1) rotate(-35.8)" text-anchor="end">Neotet</text>
<text transform="translate(186.0 1570.8) rotate(-31.0)" text-anchor="end">Telvit</text>
<text transform="translate(179.9 1541.1) rotate(-26.2)" text-anchor="end">TelteS</text>
<text transform="translate(162.8 1517.0) rotate(-21.4)" text-anchor="end">TeldhS</text>
<text transform="translate(135.9 1494.7) rotate(-16.6)" text-anchor="end">Cphgib</text>
<text transform="translate(143.6 1461.8) rotate(-11.8)" text-anchor="end">Lchaur</text>
<text transform="translate(133.3 1433.5) rotate(-7.1)" text-anchor="end">Xennas</text>
<text transform="translate(103.6 1404.9) rotate(-2.3)" text-anchor="end">Xenspi</text>
<text transform="translate(106.9 1372.9) rotate(2.5)" text-anchor="end">Xenbou</text>
<text transform="translate(96.4 1339.5) rotate(7.3)" text-anchor="end">Enamel</text>
<text transform="translate(120.5 1311.0) rotate(12.1)" text-anchor="end">Calple</text>
<text transform="translate(138.9 1283.9) rotate(16.9)" text-anchor="end">Calmac</text>
<text transform="translate(158.2 1258.8) rotate(21.7)" text-anchor="end">Cyafur</text>
<text transform="translate(170.6 1231.9) rotate(26.5)" text-anchor="end">Ophven</text>
<text transform="translate(175.2 1200.2) rotate(31.3)" text-anchor="end">Auldew</text>
<text transform="translate(182.7 1167.9) rotate(36.1)" text-anchor="end">Pcynig</text>
<text transform="translate(199.1 1140.5) rotate(40.9)" text-anchor="end">PcybrN</text>
<text transform="translate(232.2 1128.8) rotate(45.7)" text-anchor="end">Cypmic</text>
<text transform="translate(259.7 1114.3) rotate(50.5)" text-anchor="end">Cypdwj</text>
<text transform="translate(287.6 1102.1) rotate(55.2)" text-anchor="end">Benhor</text>
<text transform="translate(317.9 1096.2) rotate(60.0)" text-anchor="end">Hapmic</text>
<text transform="translate(336.4 1069.0) rotate(64.8)" text-anchor="end">Plepar</text>
<text transform="translate(359.1 1045.1) rotate(69.6)" text-anchor="end">Plestr</text>
<text transform="translate(394.4 1057.1) rotate(74.4)" text-anchor="end">Permic</text>
<text transform="translate(413.3 1002.4) rotate(79.2)" text-anchor="end">Spaery</text>
<text transform="translate(448.5 1021.9) rotate(84.0)" text-anchor="end">Eremar</text>
<text transform="translate(479.1 1008.2) rotate(88.8)" text-anchor="end">Tanirs</text>
<text transform="translate(511.2 1006.1) rotate(-86.4)">Erecya</text>
<text transform="translate(538.6 1040.1) rotate(-81.6)">Astbur</text>
<text transform="translate(576.8 1006.4) rotate(-76.8)">Tronig</text>
<text transform="translate(601.4 1037.4) rotate(-72.0)">Tromoo</text>
<text transform="translate(627.2 1055.8) rotate(-67.2)">Loblab</text>
<text transform="translate(658.3 1061.6) rotate(-62.4)">Petmac</text>
<text transform="translate(678.0 1088.3) rotate(-57.7)">Petpol</text>
<text transform="translate(715.5 1088.1) rotate(-52.9)">Peteph</text>
<text transform="translate(721.6 1128.6) rotate(-48.1)">Simdia</text>
<text transform="translate(752.5 1139.8) rotate(-43.3)">Petfas</text>
<text transform="translate(780.4 1156.5) rotate(-38.5)">Intloo</text>
<text transform="translate(792.8 1185.9) rotate(-33.7)">Petfam</text>
<text transform="translate(854.2 1187.1) rotate(-28.9)">Pscple</text>
<text transform="translate(875.2 1216.0) rotate(-24.1)">Pscbab</text>
<text transform="translate(869.2 1255.8) rotate(-19.3)">Gnapfe</text>
<text transform="translate(850.2 1295.6) rotate(-14.5)">Ctehor</text></g></g>
</svg></section>
<section id="panel-ovary" style="left:1008px;top:936px;width:1007px;height:904px">
<h2 style="left:18.4px;top:19.0px">ovary</h2>
<svg width="1007" height="904" viewBox="1008 936 1007 904" role="img" aria-label="ovary lncRNA tree">
<rect x="1010.0" y="938.6" width="1000.7" height="899.3" fill="#fff"/>
<clipPath id="c11"><rect x="1010.0" y="938.6" width="1000.7" height="899.3"/></clipPath>
<g clip-path="url(#c11)"><g class="br"><path d="M1515.2 1392.8L1844.6 1395.2" stroke="#5f5f5f" stroke-linecap="round"/>
<path d="M1515.2 1392.8L1538.0 1397.8" stroke="#d4d4d4" stroke-linecap="butt"/>
<path d="M1538.3 1395.9A23.3 23.3 0 0 1 1538.0 1397.8M1682.2 1408.0A167.6 167.6 0 0 1 1680.3 1421.9" stroke="#968f76" stroke-linecap="butt"/>
<path d="M1538.0 1397.8A23.3 23.3 0 0 1 1537.5 1399.7M1648.6 1428.0A137.9 137.9 0 0 1 1645.2 1439.0" stroke="#1e1e1e" stroke-linecap="butt"/>
<path d="M1538.3 1395.9L1681.4 1415.0" stroke="#968f76" stroke-linecap="butt"/>
<path d="M1682.2 1408.0L1882.5 1426.3M1680.3 1421.9L1868.3 1455.0" stroke="#968f76" stroke-linecap="round"/>
<path d="M1537.5 1399.7L1647.0 1433.6" stroke="#1e1e1e" stroke-linecap="butt"/>
<path d="M1648.6 1428.0L1837.1 1477.8M1645.2 1439.0L1828.0 1504.1" stroke="#1e1e1e" stroke-linecap="round"/>
<path d="M1515.2 1392.8L1503.7 1403.6M1501.9 1384.4L1492.8 1378.7M1500.7 1370.7L1495.5 1362.7M1518.0 1366.5L1518.0 1366.5" stroke="#c9c9c9" stroke-linecap="butt"/>
<path d="M1522.8 1406.7A15.8 15.8 0 0 1 1503.7 1403.6M1574.1 1425.9A67.5 67.5 0 0 1 1510.9 1460.2M1591.0 1427.2A83.2 83.2 0 0 1 1583.9 1439.8M1588.6 1433.8A84.0 84.0 0 0 1 1579.9 1446.4M1585.7 1440.3A85.0 85.0 0 0 1 1575.0 1453.3M1582.7 1447.0A86.5 86.5 0 0 1 1568.6 1460.9M1578.7 1453.2A87.6 87.6 0 0 1 1557.0 1469.8M1582.7 1468.6A101.5 101.5 0 0 1 1576.1 1474.0M1569.3 1479.1A101.8 101.8 0 0 1 1558.1 1485.2M1570.9 1500.8A121.5 121.5 0 0 1 1561.7 1505.1M1533.3 1458.9A68.5 68.5 0 0 1 1488.9 1456.1M1536.8 1460.5A71.0 71.0 0 0 1 1531.1 1462.0M1516.0 1469.4A76.6 76.6 0 0 1 1460.3 1446.2M1526.1 1469.0A77.0 77.0 0 0 1 1505.9 1469.2M1520.3 1479.2A86.5 86.5 0 0 1 1486.5 1474.4M1489.0 1485.2A96.0 96.0 0 0 1 1477.7 1481.2M1480.7 1484.5A98.0 98.0 0 0 1 1473.2 1481.3M1471.2 1457.2A78.0 78.0 0 0 1 1449.7 1435.1M1469.4 1471.4A91.0 91.0 0 0 1 1458.5 1463.9M1455.0 1478.8A105.0 105.0 0 0 1 1444.7 1470.6M1445.0 1477.1A109.7 109.7 0 0 1 1438.2 1470.9M1452.4 1442.3A80.0 80.0 0 0 1 1444.2 1429.7M1434.8 1461.8A106.0 106.0 0 0 1 1429.3 1454.8M1439.1 1438.6A88.8 88.8 0 0 1 1434.0 1428.7M1422.8 1438.3A103.0 103.0 0 0 1 1419.4 1430.5" stroke="#c286c2" stroke-linecap="butt"/>
<path d="M1503.7 1403.6A15.8 15.8 0 0 1 1501.9 1384.4M1489.9 1400.4A26.5 26.5 0 0 1 1518.0 1366.5M1513.6 1366.4A26.5 26.5 0 0 1 1521.5 1367.1" stroke="#c9c9c9" stroke-linecap="butt"/>
<path d="M1522.8 1406.7L1547.4 1452.2M1574.1 1425.9L1587.7 1433.7M1583.9 1439.8L1584.5 1440.3M1579.9 1446.4L1580.7 1447.1M1575.0 1453.3L1576.0 1454.3M1568.6 1460.9L1569.3 1461.8M1570.7 1460.6L1579.5 1471.4M1557.0 1469.8L1563.8 1482.3M1558.1 1485.2L1566.4 1503.0M1510.9 1460.2L1510.9 1461.2M1533.3 1458.9L1534.0 1461.3M1488.9 1456.1L1485.8 1463.5M1516.0 1469.4L1516.0 1469.8M1505.9 1469.2L1504.7 1478.7M1486.5 1474.4L1483.3 1483.3M1477.7 1481.2L1476.9 1483.0M1460.3 1446.2L1459.3 1447.2M1471.2 1457.2L1463.8 1467.9M1458.5 1463.9L1449.7 1474.9M1444.7 1470.6L1441.5 1474.1M1449.7 1435.1L1448.0 1436.2M1452.4 1442.3L1432.0 1458.4M1444.2 1429.7L1436.4 1433.7M1434.0 1428.7L1421.0 1434.4" stroke="#c286c2" stroke-linecap="butt"/>
<path d="M1591.0 1427.2L1772.2 1509.2M1588.6 1433.8L1798.5 1550.9M1585.7 1440.3L1783.1 1573.2M1582.7 1447.0L1778.3 1603.9M1578.7 1453.2L1778.5 1643.0M1582.7 1468.6L1722.8 1626.1M1576.1 1474.0L1715.5 1659.9M1569.3 1479.1L1676.5 1650.1M1570.9 1500.8L1653.3 1660.4M1561.7 1505.1L1632.3 1675.5M1536.8 1460.5L1637.0 1774.5M1531.1 1462.0L1596.3 1746.6M1526.1 1469.0L1558.8 1698.3M1520.3 1479.2L1533.6 1709.5M1513.0 1479.3L1506.5 1733.2M1505.8 1478.8L1479.7 1717.0M1498.7 1477.7L1458.1 1685.1M1489.0 1485.2L1430.5 1691.4M1480.7 1484.5L1398.5 1702.7M1473.2 1481.3L1382.6 1671.7M1469.4 1471.4L1340.4 1693.0M1455.0 1478.8L1338.6 1645.0M1445.0 1477.1L1323.7 1622.7M1438.2 1470.9L1297.9 1613.2M1434.8 1461.8L1272.2 1601.2M1429.3 1454.8L1261.3 1576.0M1439.1 1438.6L1252.1 1551.1M1422.8 1438.3L1230.4 1533.1M1419.4 1430.5L1228.2 1505.5" stroke="#c286c2" stroke-linecap="round"/>
<path d="M1489.3 1398.3L1185.1 1462.1" stroke="#4857a5" stroke-linecap="round"/>
<path d="M1489.0 1388.9L1452.4 1383.4M1451.8 1396.0L1434.5 1396.9M1434.5 1390.9L1416.3 1390.5M1416.6 1384.3L1409.4 1383.7M1455.5 1371.2L1453.9 1370.6M1452.1 1376.5L1396.6 1362.1M1456.3 1365.0L1413.6 1344.8M1416.8 1338.5L1416.5 1338.3" stroke="#93afd4" stroke-linecap="butt"/>
<path d="M1451.8 1396.0A63.5 63.5 0 0 1 1455.5 1371.2M1435.1 1402.7A80.8 80.8 0 0 1 1434.5 1390.9M1416.3 1396.7A99.0 99.0 0 0 1 1416.6 1384.3M1409.1 1388.1A106.2 106.2 0 0 1 1409.9 1379.3M1452.1 1376.5A65.2 65.2 0 0 1 1456.3 1365.0M1395.4 1367.1A122.6 122.6 0 0 1 1397.9 1357.2M1410.8 1351.3A112.4 112.4 0 0 1 1416.8 1338.5M1414.3 1342.5A112.8 112.8 0 0 1 1418.8 1334.2" stroke="#93afd4" stroke-linecap="butt"/>
<path d="M1435.1 1402.7L1169.1 1435.7M1416.3 1396.7L1172.9 1406.4M1409.1 1388.1L1185.1 1378.2M1409.9 1379.3L1184.1 1350.3M1395.4 1367.1L1189.6 1322.9M1397.9 1357.2L1207.7 1299.4M1410.8 1351.3L1226.4 1277.9M1414.3 1342.5L1226.8 1249.1M1418.8 1334.2L1233.2 1221.5" stroke="#93afd4" stroke-linecap="round"/>
<path d="M1491.7 1365.5A36.0 36.0 0 0 1 1499.6 1360.4" stroke="#d4d4d4" stroke-linecap="butt"/>
<path d="M1491.7 1365.5L1490.6 1364.3M1487.8 1367.0L1460.5 1341.3M1456.4 1346.0L1453.5 1343.7M1465.0 1336.9L1447.5 1317.4" stroke="#e8502a" stroke-linecap="butt"/>
<path d="M1487.8 1367.0A37.7 37.7 0 0 1 1493.8 1361.8M1456.4 1346.0A75.2 75.2 0 0 1 1465.0 1336.9M1451.5 1346.4A78.9 78.9 0 0 1 1455.6 1341.2M1444.4 1320.3A101.4 101.4 0 0 1 1450.7 1314.6" stroke="#e8502a" stroke-linecap="butt"/>
<path d="M1451.5 1346.4L1266.2 1211.4M1455.6 1341.2L1277.1 1186.8M1444.4 1320.3L1297.6 1170.1M1450.7 1314.6L1315.3 1150.6" stroke="#e8502a" stroke-linecap="round"/>
<path d="M1493.8 1361.8L1343.7 1145.6" stroke="#9e1b32" stroke-linecap="round"/>
<path d="M1499.6 1360.4L1459.9 1278.2M1468.4 1274.4L1468.1 1273.5M1475.6 1270.8L1474.5 1267.3" stroke="#f5a94b" stroke-linecap="butt"/>
<path d="M1451.7 1282.5A127.3 127.3 0 0 1 1468.4 1274.4M1460.7 1276.7A128.3 128.3 0 0 1 1475.6 1270.8M1469.3 1269.1A132.0 132.0 0 0 1 1479.8 1265.7" stroke="#f5a94b" stroke-linecap="butt"/>
<path d="M1451.7 1282.5L1357.3 1118.8M1460.7 1276.7L1374.2 1092.7M1469.3 1269.1L1405.3 1096.8M1479.8 1265.7L1429.6 1085.7" stroke="#f5a94b" stroke-linecap="round"/>
<path d="M1521.5 1367.1A26.5 26.5 0 0 1 1522.3 1367.3M1525.3 1324.3A69.3 69.3 0 0 1 1541.5 1328.7M1539.2 1307.0A89.1 89.1 0 0 1 1600.5 1366.9M1543.8 1270.7A125.4 125.4 0 0 1 1553.9 1273.5M1562.5 1302.2A102.2 102.2 0 0 1 1573.5 1308.8M1576.5 1296.1A114.5 114.5 0 0 1 1584.4 1301.5M1583.3 1317.0A101.9 101.9 0 0 1 1592.3 1326.1M1599.7 1313.3A116.0 116.0 0 0 1 1606.0 1320.6M1626.1 1331.6A126.6 126.6 0 0 1 1630.8 1341.1M1599.3 1363.3A89.1 89.1 0 0 1 1601.5 1370.5" stroke="#7fc67b" stroke-linecap="butt"/>
<path d="M1513.6 1366.4L1507.2 1264.8M1496.5 1265.9L1494.6 1253.0M1517.9 1264.5L1517.9 1263.1" stroke="#6a2c85" stroke-linecap="butt"/>
<path d="M1496.5 1265.9A128.3 128.3 0 0 1 1517.9 1264.5M1488.8 1254.0A141.3 141.3 0 0 1 1500.5 1252.3M1512.5 1263.1A129.7 129.7 0 0 1 1523.4 1263.4" stroke="#6a2c85" stroke-linecap="butt"/>
<path d="M1488.8 1254.0L1451.5 1058.2M1500.5 1252.3L1481.4 1071.1M1512.5 1263.1L1508.3 1061.5M1523.4 1263.4L1538.5 1022.1" stroke="#6a2c85" stroke-linecap="round"/>
<path d="M1522.3 1367.3L1533.6 1326.0M1541.5 1328.7L1549.0 1310.4M1539.2 1307.0L1548.9 1272.0M1561.3 1316.6L1568.1 1305.4M1573.5 1308.8L1580.5 1298.7M1578.8 1330.4L1588.0 1321.4M1592.3 1326.1L1602.9 1316.9M1595.0 1353.1L1628.5 1336.3M1600.5 1366.9L1600.5 1366.9" stroke="#7fc67b" stroke-linecap="butt"/>
<path d="M1525.3 1324.3L1564.0 1062.1M1543.8 1270.7L1589.0 1077.8M1553.9 1273.5L1615.4 1084.0M1549.7 1310.7L1643.4 1087.2M1562.5 1302.2L1653.4 1128.1M1576.5 1296.1L1683.2 1127.6M1584.4 1301.5L1711.7 1133.4M1583.3 1317.0L1710.4 1175.5M1599.7 1313.3L1748.0 1173.7M1606.0 1320.6L1802.0 1164.8M1589.4 1343.4L1778.9 1217.0M1626.1 1331.6L1819.6 1224.8M1630.8 1341.1L1815.7 1258.4M1599.3 1363.3L1831.0 1282.1M1601.5 1370.5L1827.0 1312.1" stroke="#7fc67b" stroke-linecap="round"/>
<path d="M1489.9 1400.4L1231.2 1477.7" stroke="#f7dc1c" stroke-linecap="round"/></g>
<g class="lab" fill="#000"><text transform="translate(1854.6 1395.2) rotate(0.4)">Boumic</text>
<text transform="translate(1892.5 1427.2) rotate(5.2)">Trenig</text>
<text transform="translate(1878.2 1456.8) rotate(10.0)">Tremar</text>
<text transform="translate(1846.8 1480.3) rotate(14.8)">Batgra</text>
<text transform="translate(1837.4 1507.4) rotate(19.6)">Batfas</text>
<text transform="translate(1781.3 1513.4) rotate(24.4)">Neobre</text>
<text transform="translate(1807.2 1555.8) rotate(29.2)">Neomul</text>
<text transform="translate(1791.4 1578.8) rotate(34.0)">Lamkun</text>
<text transform="translate(1786.1 1610.2) rotate(38.8)">Neocau</text>
<text transform="translate(1785.8 1649.9) rotate(43.5)">Neofas</text>
<text transform="translate(1729.5 1633.6) rotate(48.3)">Lamoce</text>
<text transform="translate(1721.5 1667.9) rotate(53.1)">Altcom</text>
<text transform="translate(1681.8 1658.5) rotate(57.9)">Lamlem</text>
<text transform="translate(1657.9 1669.3) rotate(62.7)">Lepelo</text>
<text transform="translate(1636.1 1684.8) rotate(67.5)">Lepatt</text>
<text transform="translate(1635.7 1729.4) rotate(72.3)">Varmoo</text>
<text transform="translate(1598.6 1756.4) rotate(77.1)">Neotoa</text>
<text transform="translate(1560.2 1708.2) rotate(81.9)">Neonig</text>
<text transform="translate(1534.2 1719.5) rotate(86.7)">Neobue</text>
<text transform="translate(1506.3 1743.2) rotate(-88.5)" text-anchor="end">Neocyl</text>
<text transform="translate(1478.6 1726.9) rotate(-83.7)" text-anchor="end">Neofur</text>
<text transform="translate(1456.2 1694.9) rotate(-78.9)" text-anchor="end">Julreg</text>
<text transform="translate(1427.8 1701.0) rotate(-74.2)" text-anchor="end">Chabri</text>
<text transform="translate(1395.0 1712.0) rotate(-69.4)" text-anchor="end">Julorn</text>
<text transform="translate(1378.3 1680.7) rotate(-64.6)" text-anchor="end">Juldic</text>
<text transform="translate(1335.3 1701.6) rotate(-59.8)" text-anchor="end">Neowal</text>
<text transform="translate(1332.8 1653.2) rotate(-55.0)" text-anchor="end">Neocyg</text>
<text transform="translate(1317.3 1630.3) rotate(-50.2)" text-anchor="end">Neopul</text>
<text transform="translate(1290.9 1620.3) rotate(-45.4)" text-anchor="end">Neosav</text>
<text transform="translate(1264.6 1607.7) rotate(-40.6)" text-anchor="end">Neomod</text>
<text transform="translate(1253.2 1581.9) rotate(-35.8)" text-anchor="end">Neotet</text>
<text transform="translate(1243.5 1556.2) rotate(-31.0)" text-anchor="end">Telvit</text>
<text transform="translate(1221.5 1537.6) rotate(-26.2)" text-anchor="end">TelteS</text>
<text transform="translate(1218.9 1509.2) rotate(-21.4)" text-anchor="end">TeldhS</text>
<text transform="translate(1221.6 1480.6) rotate(-16.6)" text-anchor="end">Cphgib</text>
<text transform="translate(1175.3 1464.1) rotate(-11.8)" text-anchor="end">Lchaur</text>
<text transform="translate(1159.2 1436.9) rotate(-7.1)" text-anchor="end">Xennas</text>
<text transform="translate(1162.9 1406.7) rotate(-2.3)" text-anchor="end">Xenspi</text>
<text transform="translate(1175.1 1377.8) rotate(2.5)" text-anchor="end">Xenbou</text>
<text transform="translate(1174.1 1349.0) rotate(7.3)" text-anchor="end">Enamel</text>
<text transform="translate(1179.8 1320.8) rotate(12.1)" text-anchor="end">Calple</text>
<text transform="translate(1198.2 1296.4) rotate(16.9)" text-anchor="end">Calmac</text>
<text transform="translate(1217.1 1274.2) rotate(21.7)" text-anchor="end">Cyafur</text>
<text transform="translate(1217.8 1244.6) rotate(26.5)" text-anchor="end">Ophven</text>
<text transform="translate(1224.7 1216.3) rotate(31.3)" text-anchor="end">Auldew</text>
<text transform="translate(1258.1 1205.5) rotate(36.1)" text-anchor="end">Pcynig</text>
<text transform="translate(1269.6 1180.2) rotate(40.9)" text-anchor="end">PcybrN</text>
<text transform="translate(1290.6 1162.9) rotate(45.7)" text-anchor="end">Cypmic</text>
<text transform="translate(1308.9 1142.9) rotate(50.5)" text-anchor="end">Cypdwj</text>
<text transform="translate(1338.0 1137.4) rotate(55.2)" text-anchor="end">Benhor</text>
<text transform="translate(1352.3 1110.1) rotate(60.0)" text-anchor="end">Hapmic</text>
<text transform="translate(1370.0 1083.6) rotate(64.8)" text-anchor="end">Plepar</text>
<text transform="translate(1401.8 1087.4) rotate(69.6)" text-anchor="end">Plestr</text>
<text transform="translate(1426.9 1076.1) rotate(74.4)" text-anchor="end">Permic</text>
<text transform="translate(1449.6 1048.4) rotate(79.2)" text-anchor="end">Spaery</text>
<text transform="translate(1480.4 1061.1) rotate(84.0)" text-anchor="end">Eremar</text>
<text transform="translate(1508.1 1051.5) rotate(88.8)" text-anchor="end">Tanirs</text>
<text transform="translate(1539.1 1012.2) rotate(-86.4)">Erecya</text>
<text transform="translate(1565.4 1052.2) rotate(-81.6)">Astbur</text>
<text transform="translate(1591.2 1068.1) rotate(-76.8)">Tronig</text>
<text transform="translate(1618.5 1074.5) rotate(-72.0)">Tromoo</text>
<text transform="translate(1647.3 1078.0) rotate(-67.2)">Loblab</text>
<text transform="translate(1658.0 1119.2) rotate(-62.4)">Petmac</text>
<text transform="translate(1688.5 1119.2) rotate(-57.7)">Petpol</text>
<text transform="translate(1717.7 1125.4) rotate(-52.9)">Peteph</text>
<text transform="translate(1717.1 1168.1) rotate(-48.1)">Simdia</text>
<text transform="translate(1755.3 1166.8) rotate(-43.3)">Petfas</text>
<text transform="translate(1809.9 1158.6) rotate(-38.5)">Intloo</text>
<text transform="translate(1787.2 1211.5) rotate(-33.7)">Petfam</text>
<text transform="translate(1828.3 1220.0) rotate(-28.9)">Pscple</text>
<text transform="translate(1824.9 1254.3) rotate(-24.1)">Pscbab</text>
<text transform="translate(1840.4 1278.8) rotate(-19.3)">Gnapfe</text>
<text transform="translate(1836.6 1309.6) rotate(-14.5)">Ctehor</text></g></g>
</svg></section>
<section id="panel-testis" style="left:0px;top:1840px;width:1008px;height:865px">
<h2 style="left:20.7px;top:18.6px">testis</h2>
<svg width="1008" height="865" viewBox="0 1840 1008 865" role="img" aria-label="testis lncRNA tree">
<rect x="4.3" y="1842.2" width="1000.9" height="858.4" fill="#fff"/>
<clipPath id="c20"><rect x="4.3" y="1842.2" width="1000.9" height="858.4"/></clipPath>
<g clip-path="url(#c20)"><g class="br"><path d="M515.4 2280.5L855.8 2282.9" stroke="#5f5f5f" stroke-linecap="round"/>
<path d="M515.4 2280.5L531.4 2284.0" stroke="#d4d4d4" stroke-linecap="butt"/>
<path d="M531.7 2282.7A16.4 16.4 0 0 1 531.4 2284.0M704.3 2297.7A189.7 189.7 0 0 1 702.2 2313.4" stroke="#968f76" stroke-linecap="butt"/>
<path d="M531.4 2284.0A16.4 16.4 0 0 1 531.1 2285.3M652.7 2316.7A142.0 142.0 0 0 1 649.2 2328.1" stroke="#1e1e1e" stroke-linecap="butt"/>
<path d="M531.7 2282.7L703.4 2305.6" stroke="#968f76" stroke-linecap="butt"/>
<path d="M704.3 2297.7L858.8 2311.8M702.2 2313.4L858.8 2341.0" stroke="#968f76" stroke-linecap="round"/>
<path d="M531.1 2285.3L651.1 2322.4" stroke="#1e1e1e" stroke-linecap="butt"/>
<path d="M652.7 2316.7L824.0 2362.0M649.2 2328.1L863.8 2404.4" stroke="#1e1e1e" stroke-linecap="round"/>
<path d="M515.4 2280.5L491.8 2304.9M485.0 2265.3L459.3 2252.5M481.0 2228.1L476.5 2221.1M521.8 2218.1L522.3 2213.0" stroke="#c9c9c9" stroke-linecap="butt"/>
<path d="M531.6 2310.4A34.0 34.0 0 0 1 491.8 2304.9M613.9 2335.9A113.0 113.0 0 0 1 508.2 2393.3M630.9 2332.8A126.8 126.8 0 0 1 620.0 2352.1M626.1 2342.3A126.8 126.8 0 0 1 613.0 2361.4M620.6 2351.3A126.8 126.8 0 0 1 604.5 2370.7M614.3 2359.9A126.8 126.8 0 0 1 593.6 2380.3M612.8 2373.1A134.4 134.4 0 0 1 579.5 2398.6M613.0 2390.2A146.8 146.8 0 0 1 603.5 2397.9M590.8 2400.8A142.0 142.0 0 0 1 575.2 2409.3M585.4 2416.2A152.7 152.7 0 0 1 573.8 2421.6M546.2 2392.9A116.5 116.5 0 0 1 470.6 2388.0M557.6 2412.7A138.8 138.8 0 0 1 546.4 2415.8M516.7 2407.0A126.5 126.5 0 0 1 424.7 2368.7M533.3 2406.2A127.0 127.0 0 0 1 500.0 2406.5M523.6 2422.0A141.7 141.7 0 0 1 468.2 2414.1M474.7 2423.8A149.0 149.0 0 0 1 457.1 2417.6M458.3 2432.1A162.0 162.0 0 0 1 445.8 2426.8M443.1 2386.1A128.0 128.0 0 0 1 407.8 2349.9M446.9 2398.1A136.1 136.1 0 0 1 430.5 2386.8M434.5 2396.0A141.0 141.0 0 0 1 420.7 2384.9M423.7 2390.5A143.2 143.2 0 0 1 414.9 2382.4M413.3 2360.9A130.0 130.0 0 0 1 400.0 2340.4M414.1 2367.3A133.4 133.4 0 0 1 407.2 2358.5M403.7 2347.7A130.4 130.4 0 0 1 396.1 2333.2M370.6 2351.8A161.4 161.4 0 0 1 365.2 2339.5" stroke="#c286c2" stroke-linecap="butt"/>
<path d="M491.8 2304.9A34.0 34.0 0 0 1 485.0 2265.3M455.3 2298.4A62.7 62.7 0 0 1 521.8 2218.1" stroke="#c9c9c9" stroke-linecap="butt"/>
<path d="M531.6 2310.4L569.3 2379.8M613.9 2335.9L625.9 2342.7M620.0 2352.1L620.0 2352.1M613.0 2361.4L613.0 2361.4M604.5 2370.7L604.5 2370.7M593.6 2380.3L598.3 2386.3M600.5 2384.5L608.3 2394.1M579.5 2398.6L583.1 2405.3M575.2 2409.3L579.7 2419.0M508.2 2393.3L508.0 2396.8M546.2 2392.9L552.0 2414.4M470.6 2388.0L466.8 2397.3M516.7 2407.0L516.7 2407.5M500.0 2406.5L498.2 2421.1M468.2 2414.1L465.8 2421.0M457.1 2417.6L452.0 2429.6M424.7 2368.7L423.6 2369.7M443.1 2386.1L438.5 2392.8M430.5 2386.8L427.4 2390.7M420.7 2384.9L419.2 2386.6M407.8 2349.9L406.2 2350.9M413.3 2360.9L410.6 2363.0M400.0 2340.4L399.7 2340.5M396.1 2333.2L367.8 2345.7" stroke="#c286c2" stroke-linecap="butt"/>
<path d="M630.9 2332.8L810.4 2414.2M626.1 2342.3L806.2 2442.8M620.6 2351.3L786.6 2463.1M614.3 2359.9L787.5 2498.9M612.8 2373.1L759.5 2512.4M613.0 2390.2L735.0 2527.2M603.5 2397.9L726.7 2562.2M590.8 2400.8L700.6 2575.9M585.4 2416.2L679.8 2599.1M573.8 2421.6L637.1 2574.4M557.6 2412.7L636.2 2659.1M546.4 2415.8L588.6 2600.0M533.3 2406.2L562.3 2609.1M523.6 2422.0L534.6 2610.6M511.8 2422.1L506.9 2612.2M500.0 2421.3L477.5 2626.4M488.2 2419.6L448.1 2624.9M474.7 2423.8L420.7 2614.3M458.3 2432.1L391.1 2610.5M445.8 2426.8L377.5 2570.5M446.9 2398.1L362.2 2543.4M434.5 2396.0L331.8 2542.5M423.7 2390.5L320.6 2514.2M414.9 2382.4L279.0 2520.2M414.1 2367.3L273.7 2487.7M407.2 2358.5L230.2 2486.3M403.7 2347.7L226.8 2454.1M370.6 2351.8L232.3 2420.0M365.2 2339.5L200.2 2404.2" stroke="#c286c2" stroke-linecap="round"/>
<path d="M454.0 2293.4L196.6 2347.4" stroke="#4857a5" stroke-linecap="round"/>
<path d="M453.4 2271.2L394.6 2262.4M393.4 2286.6L359.5 2288.3M359.4 2276.9L359.1 2276.9M359.6 2267.1L337.8 2265.2M400.5 2238.9L397.6 2237.8M394.1 2249.1L328.7 2232.2M402.1 2227.0L359.4 2206.7M364.3 2197.1L363.4 2196.6" stroke="#93afd4" stroke-linecap="butt"/>
<path d="M393.4 2286.6A122.2 122.2 0 0 1 400.5 2238.9M360.5 2299.7A156.1 156.1 0 0 1 359.4 2276.9M359.1 2286.7A156.4 156.4 0 0 1 359.6 2267.1M337.3 2272.6A178.3 178.3 0 0 1 338.6 2257.8M394.1 2249.1A125.3 125.3 0 0 1 402.1 2227.0M326.8 2240.0A192.9 192.9 0 0 1 330.8 2224.4M355.0 2216.7A172.6 172.6 0 0 1 364.3 2197.1M360.0 2203.1A173.6 173.6 0 0 1 367.0 2190.3" stroke="#93afd4" stroke-linecap="butt"/>
<path d="M360.5 2299.7L168.5 2323.4M359.1 2286.7L145.7 2295.1M337.3 2272.6L136.0 2263.7M338.6 2257.8L114.9 2229.0M326.8 2240.0L157.9 2203.7M330.8 2224.4L169.9 2175.5M355.0 2216.7L184.4 2148.8M360.0 2203.1L168.4 2107.5M367.0 2190.3L195.1 2085.9" stroke="#93afd4" stroke-linecap="round"/>
<path d="M469.1 2226.7A71.0 71.0 0 0 1 484.5 2216.5" stroke="#d4d4d4" stroke-linecap="butt"/>
<path d="M469.1 2226.7L468.0 2225.4M462.5 2230.7L421.5 2192.1M414.5 2200.3L413.6 2199.5M429.3 2184.6L398.3 2150.2" stroke="#e8502a" stroke-linecap="butt"/>
<path d="M462.5 2230.7A72.7 72.7 0 0 1 474.0 2220.8M414.5 2200.3A128.9 128.9 0 0 1 429.3 2184.6M410.3 2203.9A130.1 130.1 0 0 1 417.0 2195.4M393.0 2155.2A175.2 175.2 0 0 1 403.9 2145.4" stroke="#e8502a" stroke-linecap="butt"/>
<path d="M410.3 2203.9L246.8 2084.7M417.0 2195.4L253.0 2053.4M393.0 2155.2L276.2 2035.7M403.9 2145.4L302.0 2022.0" stroke="#e8502a" stroke-linecap="round"/>
<path d="M474.0 2220.8L315.7 1992.6" stroke="#9e1b32" stroke-linecap="round"/>
<path d="M484.5 2216.5L454.2 2153.6M463.6 2149.5L463.8 2149.9M472.1 2146.9L471.6 2145.5" stroke="#f5a94b" stroke-linecap="butt"/>
<path d="M445.0 2158.4A140.9 140.9 0 0 1 463.6 2149.5M455.7 2153.4A140.4 140.4 0 0 1 472.1 2146.9M466.0 2147.5A141.9 141.9 0 0 1 477.3 2143.8" stroke="#f5a94b" stroke-linecap="butt"/>
<path d="M445.0 2158.4L355.7 2003.3M455.7 2153.4L370.9 1973.0M466.0 2147.5L376.9 1907.6M477.3 2143.8L429.0 1970.8" stroke="#f5a94b" stroke-linecap="round"/>
<path d="M511.2 2212.8A67.8 67.8 0 0 1 522.3 2213.0M489.5 2104.6A177.8 177.8 0 0 1 519.1 2102.7M480.6 2097.8A186.0 186.0 0 0 1 496.0 2095.5M511.7 2102.3A178.2 178.2 0 0 1 526.6 2102.6" stroke="#6a2c85" stroke-linecap="butt"/>
<path d="M522.3 2213.0A67.8 67.8 0 0 1 533.3 2215.1M531.8 2169.2A112.5 112.5 0 0 1 558.1 2176.4M553.8 2142.6A143.1 143.1 0 0 1 652.3 2238.8M553.3 2118.7A166.2 166.2 0 0 1 566.7 2122.4M591.3 2135.1A164.0 164.0 0 0 1 608.9 2145.7M606.3 2137.0A169.8 169.8 0 0 1 617.9 2145.1M613.1 2171.7A146.2 146.2 0 0 1 625.9 2184.8M638.5 2164.6A169.1 169.1 0 0 1 647.8 2175.3M687.4 2185.5A196.5 196.5 0 0 1 694.8 2200.2M650.5 2233.2A143.1 143.1 0 0 1 653.9 2244.6" stroke="#7fc67b" stroke-linecap="butt"/>
<path d="M511.2 2212.8L504.2 2103.0M489.5 2104.6L488.3 2096.5M519.1 2102.7L519.1 2102.3" stroke="#6a2c85" stroke-linecap="butt"/>
<path d="M480.6 2097.8L446.6 1919.6M496.0 2095.5L478.2 1926.2M511.7 2102.3L507.9 1925.3M526.6 2102.6L538.3 1916.2" stroke="#6a2c85" stroke-linecap="round"/>
<path d="M533.3 2215.1L545.2 2172.0M558.1 2176.4L569.7 2148.1M553.8 2142.6L560.0 2120.4M589.4 2158.0L600.2 2140.1M608.9 2145.7L612.2 2141.0M617.5 2180.2L619.7 2178.1M625.9 2184.8L643.3 2169.8M643.5 2216.6L691.3 2192.8M652.3 2238.8L652.3 2238.8" stroke="#7fc67b" stroke-linecap="butt"/>
<path d="M531.8 2169.2L566.6 1933.2M553.3 2118.7L594.9 1940.8M566.7 2122.4L629.6 1928.4M570.8 2148.5L658.6 1939.2M591.3 2135.1L691.8 1942.3M606.3 2137.0L702.4 1985.2M617.9 2145.1L748.1 1973.2M613.1 2171.7L744.0 2026.0M638.5 2164.6L763.9 2046.5M647.8 2175.3L770.4 2077.7M634.5 2201.1L831.1 2070.0M687.4 2185.5L841.6 2100.4M694.8 2200.2L859.6 2126.5M650.5 2233.2L872.7 2155.3M653.9 2244.6L852.9 2193.1" stroke="#7fc67b" stroke-linecap="round"/>
<path d="M455.3 2298.4L166.6 2384.8" stroke="#f7dc1c" stroke-linecap="round"/></g>
<g class="lab" fill="#000"><text transform="translate(865.8 2283.0) rotate(0.4)">Boumic</text>
<text transform="translate(868.7 2312.7) rotate(5.2)">Trenig</text>
<text transform="translate(868.7 2342.7) rotate(10.0)">Tremar</text>
<text transform="translate(833.7 2364.5) rotate(14.8)">Batgra</text>
<text transform="translate(873.2 2407.8) rotate(19.6)">Batfas</text>
<text transform="translate(819.6 2418.3) rotate(24.4)">Neobre</text>
<text transform="translate(814.9 2447.6) rotate(29.2)">Neomul</text>
<text transform="translate(794.8 2468.7) rotate(34.0)">Lamkun</text>
<text transform="translate(795.3 2505.1) rotate(38.8)">Neocau</text>
<text transform="translate(766.7 2519.3) rotate(43.5)">Neofas</text>
<text transform="translate(741.6 2534.7) rotate(48.3)">Lamoce</text>
<text transform="translate(732.7 2570.2) rotate(53.1)">Altcom</text>
<text transform="translate(705.9 2584.4) rotate(57.9)">Lamlem</text>
<text transform="translate(684.3 2608.0) rotate(62.7)">Lepelo</text>
<text transform="translate(640.9 2583.6) rotate(67.5)">Lepatt</text>
<text transform="translate(639.0 2630.5) rotate(72.3)">Varmoo</text>
<text transform="translate(590.9 2609.8) rotate(77.1)">Neotoa</text>
<text transform="translate(563.7 2619.0) rotate(81.9)">Neonig</text>
<text transform="translate(535.2 2620.6) rotate(86.7)">Neobue</text>
<text transform="translate(506.6 2622.2) rotate(-88.5)" text-anchor="end">Neocyl</text>
<text transform="translate(476.4 2636.4) rotate(-83.7)" text-anchor="end">Neofur</text>
<text transform="translate(446.2 2634.7) rotate(-78.9)" text-anchor="end">Julreg</text>
<text transform="translate(417.9 2623.9) rotate(-74.2)" text-anchor="end">Chabri</text>
<text transform="translate(387.6 2619.8) rotate(-69.4)" text-anchor="end">Julorn</text>
<text transform="translate(373.2 2579.5) rotate(-64.6)" text-anchor="end">Juldic</text>
<text transform="translate(357.2 2552.1) rotate(-59.8)" text-anchor="end">Neowal</text>
<text transform="translate(326.1 2550.7) rotate(-55.0)" text-anchor="end">Neocyg</text>
<text transform="translate(314.2 2521.8) rotate(-50.2)" text-anchor="end">Neopul</text>
<text transform="translate(272.0 2527.3) rotate(-45.4)" text-anchor="end">Neosav</text>
<text transform="translate(266.1 2494.2) rotate(-40.6)" text-anchor="end">Neomod</text>
<text transform="translate(222.1 2492.1) rotate(-35.8)" text-anchor="end">Neotet</text>
<text transform="translate(218.2 2459.2) rotate(-31.0)" text-anchor="end">Telvit</text>
<text transform="translate(223.3 2424.4) rotate(-26.2)" text-anchor="end">TelteS</text>
<text transform="translate(190.9 2407.9) rotate(-21.4)" text-anchor="end">TeldhS</text>
<text transform="translate(157.0 2387.6) rotate(-16.6)" text-anchor="end">Cphgib</text>
<text transform="translate(186.9 2349.4) rotate(-11.8)" text-anchor="end">Lchaur</text>
<text transform="translate(158.5 2324.7) rotate(-7.1)" text-anchor="end">Xennas</text>
<text transform="translate(135.7 2295.5) rotate(-2.3)" text-anchor="end">Xenspi</text>
<text transform="translate(126.0 2263.3) rotate(2.5)" text-anchor="end">Xenbou</text>
<text transform="translate(105.0 2227.8) rotate(7.3)" text-anchor="end">Enamel</text>
<text transform="translate(148.1 2201.6) rotate(12.1)" text-anchor="end">Calple</text>
<text transform="translate(160.3 2172.6) rotate(16.9)" text-anchor="end">Calmac</text>
<text transform="translate(175.1 2145.1) rotate(21.7)" text-anchor="end">Cyafur</text>
<text transform="translate(159.5 2103.1) rotate(26.5)" text-anchor="end">Ophven</text>
<text transform="translate(186.6 2080.7) rotate(31.3)" text-anchor="end">Auldew</text>
<text transform="translate(238.7 2078.9) rotate(36.1)" text-anchor="end">Pcynig</text>
<text transform="translate(245.4 2046.9) rotate(40.9)" text-anchor="end">PcybrN</text>
<text transform="translate(269.3 2028.6) rotate(45.7)" text-anchor="end">Cypmic</text>
<text transform="translate(295.6 2014.3) rotate(50.5)" text-anchor="end">Cypdwj</text>
<text transform="translate(310.0 1984.4) rotate(55.2)" text-anchor="end">Benhor</text>
<text transform="translate(350.7 1994.7) rotate(60.0)" text-anchor="end">Hapmic</text>
<text transform="translate(366.7 1964.0) rotate(64.8)" text-anchor="end">Plepar</text>
<text transform="translate(373.4 1898.2) rotate(69.6)" text-anchor="end">Plestr</text>
<text transform="translate(426.4 1961.2) rotate(74.4)" text-anchor="end">Permic</text>
<text transform="translate(444.8 1909.8) rotate(79.2)" text-anchor="end">Spaery</text>
<text transform="translate(477.1 1916.3) rotate(84.0)" text-anchor="end">Eremar</text>
<text transform="translate(507.7 1915.3) rotate(88.8)" text-anchor="end">Tanirs</text>
<text transform="translate(538.9 1906.2) rotate(-86.4)">Erecya</text>
<text transform="translate(568.0 1923.3) rotate(-81.6)">Astbur</text>
<text transform="translate(597.2 1931.0) rotate(-76.8)">Tronig</text>
<text transform="translate(632.7 1918.9) rotate(-72.0)">Tromoo</text>
<text transform="translate(662.4 1930.0) rotate(-67.2)">Loblab</text>
<text transform="translate(696.4 1933.5) rotate(-62.4)">Petmac</text>
<text transform="translate(707.7 1976.8) rotate(-57.7)">Petpol</text>
<text transform="translate(754.1 1965.3) rotate(-52.9)">Peteph</text>
<text transform="translate(750.7 2018.5) rotate(-48.1)">Simdia</text>
<text transform="translate(771.2 2039.7) rotate(-43.3)">Petfas</text>
<text transform="translate(778.3 2071.5) rotate(-38.5)">Intloo</text>
<text transform="translate(839.4 2064.5) rotate(-33.7)">Petfam</text>
<text transform="translate(850.4 2095.6) rotate(-28.9)">Pscple</text>
<text transform="translate(868.7 2122.4) rotate(-24.1)">Pscbab</text>
<text transform="translate(882.1 2152.0) rotate(-19.3)">Gnapfe</text>
<text transform="translate(862.6 2190.6) rotate(-14.5)">Ctehor</text></g></g>
</svg></section>
<section id="panel-liver" style="left:1008px;top:1840px;width:1007px;height:865px">
<h2 style="left:18.4px;top:18.6px">liver</h2>
<svg width="1007" height="865" viewBox="1008 1840 1007 865" role="img" aria-label="liver lncRNA tree">
<rect x="1010.0" y="1842.2" width="1000.7" height="858.4" fill="#fff"/>
<clipPath id="c21"><rect x="1010.0" y="1842.2" width="1000.7" height="858.4"/></clipPath>
<g clip-path="url(#c21)"><g class="br"><path d="M1442.1 2281.1L2004.0 2285.2" stroke="#5f5f5f" stroke-linecap="round"/>
<path d="M1442.1 2281.1L1448.1 2282.4" stroke="#d4d4d4" stroke-linecap="butt"/>
<path d="M1448.1 2281.9A6.1 6.1 0 0 1 1448.1 2282.4M1592.4 2294.8A150.9 150.9 0 0 1 1590.7 2307.3" stroke="#968f76" stroke-linecap="butt"/>
<path d="M1448.1 2282.4A6.1 6.1 0 0 1 1447.9 2282.9M1540.1 2307.0A101.4 101.4 0 0 1 1537.6 2315.1" stroke="#1e1e1e" stroke-linecap="butt"/>
<path d="M1448.1 2281.9L1591.7 2301.1" stroke="#968f76" stroke-linecap="butt"/>
<path d="M1592.4 2294.8L1733.8 2307.7M1590.7 2307.3L1724.5 2330.9" stroke="#968f76" stroke-linecap="round"/>
<path d="M1447.9 2282.9L1539.0 2311.1" stroke="#1e1e1e" stroke-linecap="butt"/>
<path d="M1540.1 2307.0L1778.6 2370.0M1537.6 2315.1L1714.0 2377.8" stroke="#1e1e1e" stroke-linecap="round"/>
<path d="M1442.1 2281.1L1413.0 2311.2M1404.7 2262.5L1401.4 2260.8M1417.1 2243.1L1409.2 2231.0M1446.7 2235.9L1447.3 2230.1" stroke="#c9c9c9" stroke-linecap="butt"/>
<path d="M1462.0 2317.9A41.8 41.8 0 0 1 1413.0 2311.2M1516.6 2323.1A85.5 85.5 0 0 1 1436.6 2366.5M1532.3 2322.0A99.0 99.0 0 0 1 1523.8 2337.1M1529.4 2329.9A100.0 100.0 0 0 1 1519.1 2344.9M1525.9 2337.5A101.0 101.0 0 0 1 1513.1 2353.0M1521.6 2345.0A102.0 102.0 0 0 1 1505.0 2361.4M1516.8 2352.1A103.0 103.0 0 0 1 1491.2 2371.7M1525.0 2374.3A124.7 124.7 0 0 1 1516.9 2380.9M1507.0 2384.7A122.2 122.2 0 0 1 1493.5 2392.0M1498.1 2389.7A122.2 122.2 0 0 1 1488.9 2394.0M1466.8 2371.3A93.5 93.5 0 0 1 1406.1 2367.4M1476.9 2390.2A114.5 114.5 0 0 1 1467.7 2392.7M1443.1 2383.1A102.0 102.0 0 0 1 1369.0 2352.2M1456.6 2382.6A102.5 102.5 0 0 1 1429.6 2382.9M1448.2 2386.1A105.1 105.1 0 0 1 1407.1 2380.2M1408.6 2399.3A122.8 122.8 0 0 1 1394.0 2394.1M1396.4 2402.5A129.7 129.7 0 0 1 1386.4 2398.3M1383.9 2366.1A103.0 103.0 0 0 1 1355.5 2337.0M1388.6 2373.0A106.3 106.3 0 0 1 1375.8 2364.2M1375.5 2376.1A116.0 116.0 0 0 1 1364.2 2367.1M1359.0 2380.8A129.8 129.8 0 0 1 1351.0 2373.5M1359.6 2346.1A105.0 105.0 0 0 1 1348.9 2329.5M1362.0 2349.8A105.5 105.5 0 0 1 1356.5 2342.9M1337.7 2343.9A121.8 121.8 0 0 1 1330.7 2330.3M1319.4 2341.6A136.8 136.8 0 0 1 1314.8 2331.1" stroke="#c286c2" stroke-linecap="butt"/>
<path d="M1413.0 2311.2A41.8 41.8 0 0 1 1404.7 2262.5M1398.5 2294.2A45.5 45.5 0 0 1 1446.7 2235.9" stroke="#c9c9c9" stroke-linecap="butt"/>
<path d="M1462.0 2317.9L1482.9 2356.3M1516.6 2323.1L1528.4 2329.7M1523.8 2337.1L1524.6 2337.6M1519.1 2344.9L1519.9 2345.6M1513.1 2353.0L1513.8 2353.7M1505.0 2361.4L1505.6 2362.2M1507.3 2360.9L1521.0 2377.7M1491.2 2371.7L1500.4 2388.5M1493.5 2392.0L1493.5 2392.0M1436.6 2366.5L1436.1 2374.4M1466.8 2371.3L1472.3 2391.6M1406.1 2367.4L1402.9 2375.3M1443.1 2383.1L1443.1 2383.6M1429.6 2382.9L1429.3 2385.5M1407.1 2380.2L1401.2 2396.9M1394.0 2394.1L1391.3 2400.5M1369.0 2352.2L1368.3 2352.9M1383.9 2366.1L1382.0 2368.8M1375.8 2364.2L1369.7 2371.8M1364.2 2367.1L1354.9 2377.3M1355.5 2337.0L1353.9 2338.0M1359.6 2346.1L1359.2 2346.4M1348.9 2329.5L1334.0 2337.2M1330.7 2330.3L1317.0 2336.4" stroke="#c286c2" stroke-linecap="butt"/>
<path d="M1532.3 2322.0L1722.2 2408.0M1529.4 2329.9L1715.5 2433.7M1525.9 2337.5L1688.8 2447.3M1521.6 2345.0L1679.6 2471.7M1516.8 2352.1L1675.4 2502.9M1525.0 2374.3L1653.0 2518.1M1516.9 2380.9L1637.5 2541.7M1507.0 2384.7L1615.3 2557.4M1498.1 2389.7L1620.6 2627.2M1488.9 2394.0L1561.0 2568.4M1476.9 2390.2L1536.6 2577.3M1467.7 2392.7L1514.0 2594.9M1456.6 2382.6L1484.1 2575.7M1448.2 2386.1L1460.3 2594.5M1439.4 2386.2L1434.1 2592.9M1430.6 2385.6L1410.1 2572.8M1421.9 2384.3L1383.9 2578.9M1408.6 2399.3L1359.5 2572.1M1396.4 2402.5L1322.0 2600.1M1386.4 2398.3L1316.3 2545.7M1388.6 2373.0L1293.0 2537.0M1375.5 2376.1L1273.7 2521.4M1359.0 2380.8L1259.1 2500.7M1351.0 2373.5L1230.8 2495.4M1362.0 2349.8L1227.0 2465.5M1356.5 2342.9L1201.2 2454.9M1337.7 2343.9L1192.1 2431.5M1319.4 2341.6L1182.8 2408.9M1314.8 2331.1L1174.5 2386.2" stroke="#c286c2" stroke-linecap="round"/>
<path d="M1397.6 2290.5L1157.2 2340.9" stroke="#4857a5" stroke-linecap="round"/>
<path d="M1397.1 2274.4L1358.8 2268.7M1358.0 2285.3L1335.8 2286.4M1335.7 2278.7L1335.3 2278.6M1335.7 2272.0L1326.2 2271.1M1362.9 2252.5L1354.9 2249.6M1352.4 2257.9L1310.0 2247.0M1358.3 2241.5L1330.3 2228.3M1333.9 2221.4L1309.9 2208.2" stroke="#93afd4" stroke-linecap="butt"/>
<path d="M1358.0 2285.3A84.2 84.2 0 0 1 1362.9 2252.5M1336.5 2294.2A106.4 106.4 0 0 1 1335.7 2278.7M1335.4 2285.3A106.8 106.8 0 0 1 1335.7 2272.0M1325.9 2276.0A116.3 116.3 0 0 1 1326.7 2266.3M1352.4 2257.9A92.7 92.7 0 0 1 1358.3 2241.5M1308.7 2252.5A136.4 136.4 0 0 1 1311.6 2241.5M1327.3 2235.4A123.6 123.6 0 0 1 1333.9 2221.4M1307.0 2213.8A151.0 151.0 0 0 1 1313.1 2202.7" stroke="#93afd4" stroke-linecap="butt"/>
<path d="M1336.5 2294.2L1146.4 2317.7M1335.4 2285.3L1119.1 2293.9M1325.9 2276.0L1150.9 2268.3M1326.7 2266.3L1123.6 2240.2M1308.7 2252.5L1131.2 2214.4M1311.6 2241.5L1085.5 2172.7M1327.3 2235.4L1162.2 2169.8M1307.0 2213.8L1174.2 2147.6M1313.1 2202.7L1182.6 2123.5" stroke="#93afd4" stroke-linecap="round"/>
<path d="M1402.9 2235.7A60.0 60.0 0 0 1 1416.0 2227.1" stroke="#d4d4d4" stroke-linecap="butt"/>
<path d="M1402.9 2235.7L1402.3 2234.9M1397.7 2239.3L1374.6 2217.6M1369.5 2223.5L1364.0 2219.0M1380.1 2212.2L1355.9 2185.2" stroke="#e8502a" stroke-linecap="butt"/>
<path d="M1397.7 2239.3A61.0 61.0 0 0 1 1407.3 2231.0M1369.5 2223.5A92.7 92.7 0 0 1 1380.1 2212.2M1361.4 2222.4A99.8 99.8 0 0 1 1366.6 2215.8M1351.9 2188.9A129.0 129.0 0 0 1 1360.0 2181.7" stroke="#e8502a" stroke-linecap="butt"/>
<path d="M1361.4 2222.4L1183.5 2092.7M1366.6 2215.8L1204.6 2075.6M1351.9 2188.9L1239.1 2073.4M1360.0 2181.7L1253.6 2052.9" stroke="#e8502a" stroke-linecap="round"/>
<path d="M1407.3 2231.0L1272.6 2036.8" stroke="#9e1b32" stroke-linecap="round"/>
<path d="M1416.0 2227.1L1387.3 2167.7M1395.8 2164.0L1395.4 2163.1M1402.9 2160.4L1400.6 2153.3" stroke="#f5a94b" stroke-linecap="butt"/>
<path d="M1379.2 2172.0A126.0 126.0 0 0 1 1395.8 2164.0M1388.1 2166.3A126.9 126.9 0 0 1 1402.9 2160.4M1395.3 2155.1A134.4 134.4 0 0 1 1406.0 2151.7" stroke="#f5a94b" stroke-linecap="butt"/>
<path d="M1379.2 2172.0L1285.1 2008.8M1388.1 2166.3L1315.1 2010.9M1395.3 2155.1L1335.4 1993.8M1406.0 2151.7L1362.6 1995.9" stroke="#f5a94b" stroke-linecap="round"/>
<path d="M1438.9 2229.9A51.3 51.3 0 0 1 1447.3 2230.1M1420.8 2137.1A145.6 145.6 0 0 1 1445.1 2135.6M1413.2 2129.7A154.2 154.2 0 0 1 1426.0 2127.8M1438.9 2131.0A150.2 150.2 0 0 1 1451.5 2131.2" stroke="#6a2c85" stroke-linecap="butt"/>
<path d="M1447.3 2230.1A51.3 51.3 0 0 1 1455.7 2231.7M1454.5 2197.2A84.8 84.8 0 0 1 1474.2 2202.7M1468.9 2184.9A99.9 99.9 0 0 1 1537.7 2252.1M1475.8 2137.1A147.9 147.9 0 0 1 1487.7 2140.4M1488.3 2192.6A99.9 99.9 0 0 1 1499.0 2199.0M1507.9 2177.2A123.0 123.0 0 0 1 1516.4 2183.1M1511.3 2204.1A103.6 103.6 0 0 1 1520.4 2213.3M1523.2 2204.8A111.4 111.4 0 0 1 1529.3 2211.8M1571.1 2209.9A147.3 147.3 0 0 1 1576.6 2221.0M1536.4 2248.1A99.9 99.9 0 0 1 1538.8 2256.1" stroke="#7fc67b" stroke-linecap="butt"/>
<path d="M1438.9 2229.9L1433.0 2135.8M1420.8 2137.1L1419.6 2128.6M1445.1 2135.6L1445.2 2131.0" stroke="#6a2c85" stroke-linecap="butt"/>
<path d="M1413.2 2129.7L1379.5 1952.6M1426.0 2127.8L1410.1 1976.8M1438.9 2131.0L1435.5 1968.3M1451.5 2131.2L1461.3 1975.5" stroke="#6a2c85" stroke-linecap="round"/>
<path d="M1455.7 2231.7L1464.5 2199.3M1474.2 2202.7L1480.0 2188.7M1468.9 2184.9L1481.8 2138.7M1493.8 2195.6L1493.8 2195.6M1499.0 2199.0L1512.2 2180.1M1513.4 2211.1L1516.0 2208.5M1520.4 2213.3L1526.3 2208.2M1531.5 2236.5L1573.9 2215.4M1537.7 2252.1L1537.7 2252.1" stroke="#7fc67b" stroke-linecap="butt"/>
<path d="M1454.5 2197.2L1488.1 1968.6M1475.8 2137.1L1517.2 1960.4M1487.7 2140.4L1540.8 1976.7M1480.7 2189.0L1558.8 2002.9M1488.3 2192.6L1652.8 1877.2M1507.9 2177.2L1606.1 2022.2M1516.4 2183.1L1647.2 2010.3M1511.3 2204.1L1648.5 2051.3M1523.2 2204.8L1665.0 2071.2M1529.3 2211.8L1684.7 2088.3M1525.2 2225.7L1688.3 2117.0M1571.1 2209.9L1718.0 2128.8M1576.6 2221.0L1738.2 2148.6M1536.4 2248.1L1800.4 2155.5M1538.8 2256.1L1782.9 2192.9" stroke="#7fc67b" stroke-linecap="round"/>
<path d="M1398.5 2294.2L1124.7 2376.0" stroke="#f7dc1c" stroke-linecap="round"/></g>
<g class="lab" fill="#000"><text transform="translate(2005.0 2267.5) rotate(0.4)" text-anchor="end">Boumic</text>
<text transform="translate(1743.8 2308.6) rotate(5.2)">Trenig</text>
<text transform="translate(1734.4 2332.6) rotate(10.0)">Tremar</text>
<text transform="translate(1788.2 2372.5) rotate(14.8)">Batgra</text>
<text transform="translate(1723.4 2381.2) rotate(19.6)">Batfas</text>
<text transform="translate(1731.3 2412.2) rotate(24.4)">Neobre</text>
<text transform="translate(1724.2 2438.6) rotate(29.2)">Neomul</text>
<text transform="translate(1697.1 2452.8) rotate(34.0)">Lamkun</text>
<text transform="translate(1687.4 2478.0) rotate(38.8)">Neocau</text>
<text transform="translate(1682.7 2509.8) rotate(43.5)">Neofas</text>
<text transform="translate(1659.6 2525.6) rotate(48.3)">Lamoce</text>
<text transform="translate(1643.5 2549.7) rotate(53.1)">Altcom</text>
<text transform="translate(1620.6 2565.9) rotate(57.9)">Lamlem</text>
<text transform="translate(1625.2 2636.1) rotate(62.7)">Lepelo</text>
<text transform="translate(1564.9 2577.6) rotate(67.5)">Lepatt</text>
<text transform="translate(1539.7 2586.8) rotate(72.3)">Varmoo</text>
<text transform="translate(1516.2 2604.6) rotate(77.1)">Neotoa</text>
<text transform="translate(1485.5 2585.6) rotate(81.9)">Neonig</text>
<text transform="translate(1460.9 2604.5) rotate(86.7)">Neobue</text>
<text transform="translate(1433.8 2602.9) rotate(-88.5)" text-anchor="end">Neocyl</text>
<text transform="translate(1409.0 2582.7) rotate(-83.7)" text-anchor="end">Neofur</text>
<text transform="translate(1382.0 2588.7) rotate(-78.9)" text-anchor="end">Julreg</text>
<text transform="translate(1356.8 2581.8) rotate(-74.2)" text-anchor="end">Chabri</text>
<text transform="translate(1318.4 2609.4) rotate(-69.4)" text-anchor="end">Julorn</text>
<text transform="translate(1312.0 2554.8) rotate(-64.6)" text-anchor="end">Juldic</text>
<text transform="translate(1288.0 2545.6) rotate(-59.8)" text-anchor="end">Neowal</text>
<text transform="translate(1268.0 2529.6) rotate(-55.0)" text-anchor="end">Neocyg</text>
<text transform="translate(1252.7 2508.4) rotate(-50.2)" text-anchor="end">Neopul</text>
<text transform="translate(1223.8 2502.5) rotate(-45.4)" text-anchor="end">Neosav</text>
<text transform="translate(1219.4 2472.0) rotate(-40.6)" text-anchor="end">Neomod</text>
<text transform="translate(1193.1 2460.8) rotate(-35.8)" text-anchor="end">Neotet</text>
<text transform="translate(1183.5 2436.6) rotate(-31.0)" text-anchor="end">Telvit</text>
<text transform="translate(1173.8 2413.3) rotate(-26.2)" text-anchor="end">TelteS</text>
<text transform="translate(1165.2 2389.8) rotate(-21.4)" text-anchor="end">TeldhS</text>
<text transform="translate(1115.1 2378.9) rotate(-16.6)" text-anchor="end">Cphgib</text>
<text transform="translate(1147.4 2343.0) rotate(-11.8)" text-anchor="end">Lchaur</text>
<text transform="translate(1136.4 2319.0) rotate(-7.1)" text-anchor="end">Xennas</text>
<text transform="translate(1109.1 2294.3) rotate(-2.3)" text-anchor="end">Xenspi</text>
<text transform="translate(1140.9 2267.8) rotate(2.5)" text-anchor="end">Xenbou</text>
<text transform="translate(1113.7 2238.9) rotate(7.3)" text-anchor="end">Enamel</text>
<text transform="translate(1121.4 2212.3) rotate(12.1)" text-anchor="end">Calple</text>
<text transform="translate(1104.2 2166.4) rotate(16.9)" text-anchor="end">Calmac</text>
<text transform="translate(1153.0 2166.1) rotate(21.7)" text-anchor="end">Cyafur</text>
<text transform="translate(1165.3 2143.2) rotate(26.5)" text-anchor="end">Ophven</text>
<text transform="translate(1174.1 2118.3) rotate(31.3)" text-anchor="end">Auldew</text>
<text transform="translate(1175.4 2086.8) rotate(36.1)" text-anchor="end">Pcynig</text>
<text transform="translate(1197.0 2069.1) rotate(40.9)" text-anchor="end">PcybrN</text>
<text transform="translate(1232.2 2066.3) rotate(45.7)" text-anchor="end">Cypmic</text>
<text transform="translate(1247.3 2045.2) rotate(50.5)" text-anchor="end">Cypdwj</text>
<text transform="translate(1266.9 2028.6) rotate(55.2)" text-anchor="end">Benhor</text>
<text transform="translate(1280.1 2000.2) rotate(60.0)" text-anchor="end">Hapmic</text>
<text transform="translate(1310.9 2001.8) rotate(64.8)" text-anchor="end">Plepar</text>
<text transform="translate(1331.9 1984.4) rotate(69.6)" text-anchor="end">Plestr</text>
<text transform="translate(1359.9 1986.3) rotate(74.4)" text-anchor="end">Permic</text>
<text transform="translate(1377.6 1942.8) rotate(79.2)" text-anchor="end">Spaery</text>
<text transform="translate(1409.1 1966.9) rotate(84.0)" text-anchor="end">Eremar</text>
<text transform="translate(1435.3 1958.3) rotate(88.8)" text-anchor="end">Tanirs</text>
<text transform="translate(1461.9 1965.5) rotate(-86.4)">Erecya</text>
<text transform="translate(1489.6 1958.7) rotate(-81.6)">Astbur</text>
<text transform="translate(1519.4 1950.7) rotate(-76.8)">Tronig</text>
<text transform="translate(1543.9 1967.2) rotate(-72.0)">Tromoo</text>
<text transform="translate(1562.7 1993.7) rotate(-67.2)">Loblab</text>
<text transform="translate(1618.9 1914.7) rotate(-62.5)">Petmac</text>
<text transform="translate(1611.4 2013.7) rotate(-57.7)">Petpol</text>
<text transform="translate(1653.2 2002.3) rotate(-52.9)">Peteph</text>
<text transform="translate(1655.2 2043.9) rotate(-48.1)">Simdia</text>
<text transform="translate(1672.3 2064.4) rotate(-43.3)">Petfas</text>
<text transform="translate(1692.5 2082.0) rotate(-38.5)">Intloo</text>
<text transform="translate(1696.6 2111.4) rotate(-33.7)">Petfam</text>
<text transform="translate(1726.8 2124.0) rotate(-28.9)">Pscple</text>
<text transform="translate(1747.3 2144.5) rotate(-24.1)">Pscbab</text>
<text transform="translate(1809.9 2152.2) rotate(-19.3)">Gnapfe</text>
<text transform="translate(1792.5 2190.4) rotate(-14.5)">Ctehor</text></g></g>
</svg></section>
</main></body></html>
